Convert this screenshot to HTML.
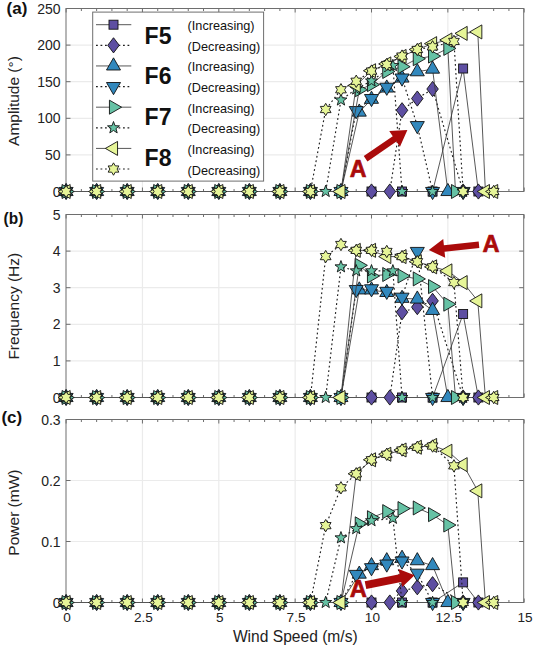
<!DOCTYPE html><html><head><meta charset="utf-8"><style>html,body{margin:0;padding:0;background:#fff;}svg{display:block;}text{font-family:"Liberation Sans",sans-serif;}</style></head><body>
<svg width="533" height="647" viewBox="0 0 533 647">
<rect x="0" y="0" width="533" height="647" fill="#fff"/>
<line x1="142.45" y1="8.5" x2="142.45" y2="191.5" stroke="#ebebeb" stroke-width="1.2"/>
<line x1="218.8" y1="8.5" x2="218.8" y2="191.5" stroke="#ebebeb" stroke-width="1.2"/>
<line x1="295.15" y1="8.5" x2="295.15" y2="191.5" stroke="#ebebeb" stroke-width="1.2"/>
<line x1="371.5" y1="8.5" x2="371.5" y2="191.5" stroke="#ebebeb" stroke-width="1.2"/>
<line x1="447.85" y1="8.5" x2="447.85" y2="191.5" stroke="#ebebeb" stroke-width="1.2"/>
<line x1="66" y1="154.9" x2="523.7" y2="154.9" stroke="#ebebeb" stroke-width="1.2"/>
<line x1="66" y1="118.3" x2="523.7" y2="118.3" stroke="#ebebeb" stroke-width="1.2"/>
<line x1="66" y1="81.7" x2="523.7" y2="81.7" stroke="#ebebeb" stroke-width="1.2"/>
<line x1="66" y1="45.1" x2="523.7" y2="45.1" stroke="#ebebeb" stroke-width="1.2"/>
<path d="M66.1 191.5v-4M66.1 8.5v4M81.37 191.5v-2.5M81.37 8.5v2.5M96.64 191.5v-2.5M96.64 8.5v2.5M111.91 191.5v-2.5M111.91 8.5v2.5M127.18 191.5v-2.5M127.18 8.5v2.5M142.45 191.5v-4M142.45 8.5v4M157.72 191.5v-2.5M157.72 8.5v2.5M172.99 191.5v-2.5M172.99 8.5v2.5M188.26 191.5v-2.5M188.26 8.5v2.5M203.53 191.5v-2.5M203.53 8.5v2.5M218.8 191.5v-4M218.8 8.5v4M234.07 191.5v-2.5M234.07 8.5v2.5M249.34 191.5v-2.5M249.34 8.5v2.5M264.61 191.5v-2.5M264.61 8.5v2.5M279.88 191.5v-2.5M279.88 8.5v2.5M295.15 191.5v-4M295.15 8.5v4M310.42 191.5v-2.5M310.42 8.5v2.5M325.69 191.5v-2.5M325.69 8.5v2.5M340.96 191.5v-2.5M340.96 8.5v2.5M356.23 191.5v-2.5M356.23 8.5v2.5M371.5 191.5v-4M371.5 8.5v4M386.77 191.5v-2.5M386.77 8.5v2.5M402.04 191.5v-2.5M402.04 8.5v2.5M417.31 191.5v-2.5M417.31 8.5v2.5M432.58 191.5v-2.5M432.58 8.5v2.5M447.85 191.5v-4M447.85 8.5v4M463.12 191.5v-2.5M463.12 8.5v2.5M478.39 191.5v-2.5M478.39 8.5v2.5M493.66 191.5v-2.5M493.66 8.5v2.5M508.93 191.5v-2.5M508.93 8.5v2.5M524.2 191.5v-4M524.2 8.5v4M66 191.5h4.5M523.7 191.5h-4.5M66 154.9h4.5M523.7 154.9h-4.5M66 118.3h4.5M523.7 118.3h-4.5M66 81.7h4.5M523.7 81.7h-4.5M66 45.1h4.5M523.7 45.1h-4.5M66 8.5h4.5M523.7 8.5h-4.5" stroke="#6e6e6e" stroke-width="1" fill="none"/>
<rect x="66" y="8.5" width="457.7" height="183" fill="none" stroke="#6e6e6e" stroke-width="1"/>
<text x="60.6" y="196.5" font-size="14" text-anchor="end" fill="#222">0</text>
<text x="60.6" y="159.9" font-size="14" text-anchor="end" fill="#222">50</text>
<text x="60.6" y="123.3" font-size="14" text-anchor="end" fill="#222">100</text>
<text x="60.6" y="86.7" font-size="14" text-anchor="end" fill="#222">150</text>
<text x="60.6" y="50.1" font-size="14" text-anchor="end" fill="#222">200</text>
<text x="60.6" y="13.5" font-size="14" text-anchor="end" fill="#222">250</text>
<line x1="142.45" y1="214.5" x2="142.45" y2="397.5" stroke="#ebebeb" stroke-width="1.2"/>
<line x1="218.8" y1="214.5" x2="218.8" y2="397.5" stroke="#ebebeb" stroke-width="1.2"/>
<line x1="295.15" y1="214.5" x2="295.15" y2="397.5" stroke="#ebebeb" stroke-width="1.2"/>
<line x1="371.5" y1="214.5" x2="371.5" y2="397.5" stroke="#ebebeb" stroke-width="1.2"/>
<line x1="447.85" y1="214.5" x2="447.85" y2="397.5" stroke="#ebebeb" stroke-width="1.2"/>
<line x1="66" y1="360.9" x2="523.7" y2="360.9" stroke="#ebebeb" stroke-width="1.2"/>
<line x1="66" y1="324.3" x2="523.7" y2="324.3" stroke="#ebebeb" stroke-width="1.2"/>
<line x1="66" y1="287.7" x2="523.7" y2="287.7" stroke="#ebebeb" stroke-width="1.2"/>
<line x1="66" y1="251.1" x2="523.7" y2="251.1" stroke="#ebebeb" stroke-width="1.2"/>
<path d="M66.1 397.5v-4M66.1 214.5v4M81.37 397.5v-2.5M81.37 214.5v2.5M96.64 397.5v-2.5M96.64 214.5v2.5M111.91 397.5v-2.5M111.91 214.5v2.5M127.18 397.5v-2.5M127.18 214.5v2.5M142.45 397.5v-4M142.45 214.5v4M157.72 397.5v-2.5M157.72 214.5v2.5M172.99 397.5v-2.5M172.99 214.5v2.5M188.26 397.5v-2.5M188.26 214.5v2.5M203.53 397.5v-2.5M203.53 214.5v2.5M218.8 397.5v-4M218.8 214.5v4M234.07 397.5v-2.5M234.07 214.5v2.5M249.34 397.5v-2.5M249.34 214.5v2.5M264.61 397.5v-2.5M264.61 214.5v2.5M279.88 397.5v-2.5M279.88 214.5v2.5M295.15 397.5v-4M295.15 214.5v4M310.42 397.5v-2.5M310.42 214.5v2.5M325.69 397.5v-2.5M325.69 214.5v2.5M340.96 397.5v-2.5M340.96 214.5v2.5M356.23 397.5v-2.5M356.23 214.5v2.5M371.5 397.5v-4M371.5 214.5v4M386.77 397.5v-2.5M386.77 214.5v2.5M402.04 397.5v-2.5M402.04 214.5v2.5M417.31 397.5v-2.5M417.31 214.5v2.5M432.58 397.5v-2.5M432.58 214.5v2.5M447.85 397.5v-4M447.85 214.5v4M463.12 397.5v-2.5M463.12 214.5v2.5M478.39 397.5v-2.5M478.39 214.5v2.5M493.66 397.5v-2.5M493.66 214.5v2.5M508.93 397.5v-2.5M508.93 214.5v2.5M524.2 397.5v-4M524.2 214.5v4M66 397.5h4.5M523.7 397.5h-4.5M66 360.9h4.5M523.7 360.9h-4.5M66 324.3h4.5M523.7 324.3h-4.5M66 287.7h4.5M523.7 287.7h-4.5M66 251.1h4.5M523.7 251.1h-4.5M66 214.5h4.5M523.7 214.5h-4.5" stroke="#6e6e6e" stroke-width="1" fill="none"/>
<rect x="66" y="214.5" width="457.7" height="183" fill="none" stroke="#6e6e6e" stroke-width="1"/>
<text x="60.6" y="402.5" font-size="14" text-anchor="end" fill="#222">0</text>
<text x="60.6" y="365.9" font-size="14" text-anchor="end" fill="#222">1</text>
<text x="60.6" y="329.3" font-size="14" text-anchor="end" fill="#222">2</text>
<text x="60.6" y="292.7" font-size="14" text-anchor="end" fill="#222">3</text>
<text x="60.6" y="256.1" font-size="14" text-anchor="end" fill="#222">4</text>
<text x="60.6" y="219.5" font-size="14" text-anchor="end" fill="#222">5</text>
<line x1="142.45" y1="419.5" x2="142.45" y2="602.5" stroke="#ebebeb" stroke-width="1.2"/>
<line x1="218.8" y1="419.5" x2="218.8" y2="602.5" stroke="#ebebeb" stroke-width="1.2"/>
<line x1="295.15" y1="419.5" x2="295.15" y2="602.5" stroke="#ebebeb" stroke-width="1.2"/>
<line x1="371.5" y1="419.5" x2="371.5" y2="602.5" stroke="#ebebeb" stroke-width="1.2"/>
<line x1="447.85" y1="419.5" x2="447.85" y2="602.5" stroke="#ebebeb" stroke-width="1.2"/>
<line x1="66" y1="541.5" x2="523.7" y2="541.5" stroke="#ebebeb" stroke-width="1.2"/>
<line x1="66" y1="480.5" x2="523.7" y2="480.5" stroke="#ebebeb" stroke-width="1.2"/>
<path d="M66.1 602.5v-4M66.1 419.5v4M81.37 602.5v-2.5M81.37 419.5v2.5M96.64 602.5v-2.5M96.64 419.5v2.5M111.91 602.5v-2.5M111.91 419.5v2.5M127.18 602.5v-2.5M127.18 419.5v2.5M142.45 602.5v-4M142.45 419.5v4M157.72 602.5v-2.5M157.72 419.5v2.5M172.99 602.5v-2.5M172.99 419.5v2.5M188.26 602.5v-2.5M188.26 419.5v2.5M203.53 602.5v-2.5M203.53 419.5v2.5M218.8 602.5v-4M218.8 419.5v4M234.07 602.5v-2.5M234.07 419.5v2.5M249.34 602.5v-2.5M249.34 419.5v2.5M264.61 602.5v-2.5M264.61 419.5v2.5M279.88 602.5v-2.5M279.88 419.5v2.5M295.15 602.5v-4M295.15 419.5v4M310.42 602.5v-2.5M310.42 419.5v2.5M325.69 602.5v-2.5M325.69 419.5v2.5M340.96 602.5v-2.5M340.96 419.5v2.5M356.23 602.5v-2.5M356.23 419.5v2.5M371.5 602.5v-4M371.5 419.5v4M386.77 602.5v-2.5M386.77 419.5v2.5M402.04 602.5v-2.5M402.04 419.5v2.5M417.31 602.5v-2.5M417.31 419.5v2.5M432.58 602.5v-2.5M432.58 419.5v2.5M447.85 602.5v-4M447.85 419.5v4M463.12 602.5v-2.5M463.12 419.5v2.5M478.39 602.5v-2.5M478.39 419.5v2.5M493.66 602.5v-2.5M493.66 419.5v2.5M508.93 602.5v-2.5M508.93 419.5v2.5M524.2 602.5v-4M524.2 419.5v4M66 602.5h4.5M523.7 602.5h-4.5M66 541.5h4.5M523.7 541.5h-4.5M66 480.5h4.5M523.7 480.5h-4.5M66 419.5h4.5M523.7 419.5h-4.5" stroke="#6e6e6e" stroke-width="1" fill="none"/>
<rect x="66" y="419.5" width="457.7" height="183" fill="none" stroke="#6e6e6e" stroke-width="1"/>
<text x="60.6" y="607.5" font-size="14" text-anchor="end" fill="#222">0</text>
<text x="60.6" y="546.5" font-size="14" text-anchor="end" fill="#222">0.1</text>
<text x="60.6" y="485.5" font-size="14" text-anchor="end" fill="#222">0.2</text>
<text x="60.6" y="424.5" font-size="14" text-anchor="end" fill="#222">0.3</text>
<g>
<line x1="66.1" y1="191.5" x2="493.66" y2="191.5" stroke="#555" stroke-width="1"/>
<polyline points="432.58,191.5 463.12,68.52 478.39,191.5" fill="none" stroke="#3a3a3a" stroke-width="0.85"/>
<rect x="61.6" y="187" width="9" height="9" fill="#5e4fa2" stroke="#111" stroke-width="0.9"/>
<rect x="92.14" y="187" width="9" height="9" fill="#5e4fa2" stroke="#111" stroke-width="0.9"/>
<rect x="122.68" y="187" width="9" height="9" fill="#5e4fa2" stroke="#111" stroke-width="0.9"/>
<rect x="153.22" y="187" width="9" height="9" fill="#5e4fa2" stroke="#111" stroke-width="0.9"/>
<rect x="183.76" y="187" width="9" height="9" fill="#5e4fa2" stroke="#111" stroke-width="0.9"/>
<rect x="214.3" y="187" width="9" height="9" fill="#5e4fa2" stroke="#111" stroke-width="0.9"/>
<rect x="244.84" y="187" width="9" height="9" fill="#5e4fa2" stroke="#111" stroke-width="0.9"/>
<rect x="275.38" y="187" width="9" height="9" fill="#5e4fa2" stroke="#111" stroke-width="0.9"/>
<rect x="305.92" y="187" width="9" height="9" fill="#5e4fa2" stroke="#111" stroke-width="0.9"/>
<rect x="336.46" y="187" width="9" height="9" fill="#5e4fa2" stroke="#111" stroke-width="0.9"/>
<rect x="367" y="187" width="9" height="9" fill="#5e4fa2" stroke="#111" stroke-width="0.9"/>
<rect x="397.54" y="187" width="9" height="9" fill="#5e4fa2" stroke="#111" stroke-width="0.9"/>
<rect x="428.08" y="187" width="9" height="9" fill="#5e4fa2" stroke="#111" stroke-width="0.9"/>
<rect x="458.62" y="64.02" width="9" height="9" fill="#5e4fa2" stroke="#111" stroke-width="0.9"/>
<rect x="473.89" y="187" width="9" height="9" fill="#5e4fa2" stroke="#111" stroke-width="0.9"/>
<polyline points="463.12,191.5 432.58,89.02 417.31,98.54 402.04,110.25 389.82,191.5" fill="none" stroke="#1e1e1e" stroke-width="1.15" stroke-dasharray="1.8 2.7"/>
<polygon points="478.39,183.9 484.14,191.5 478.39,199.1 472.64,191.5" fill="#5e4fa2" stroke="#111" stroke-width="0.9" stroke-linejoin="miter"/>
<polygon points="463.12,183.9 468.87,191.5 463.12,199.1 457.37,191.5" fill="#5e4fa2" stroke="#111" stroke-width="0.9" stroke-linejoin="miter"/>
<polygon points="432.58,81.42 438.33,89.02 432.58,96.62 426.83,89.02" fill="#5e4fa2" stroke="#111" stroke-width="0.9" stroke-linejoin="miter"/>
<polygon points="417.31,90.94 423.06,98.54 417.31,106.14 411.56,98.54" fill="#5e4fa2" stroke="#111" stroke-width="0.9" stroke-linejoin="miter"/>
<polygon points="402.04,102.65 407.79,110.25 402.04,117.85 396.29,110.25" fill="#5e4fa2" stroke="#111" stroke-width="0.9" stroke-linejoin="miter"/>
<polygon points="389.82,183.9 395.57,191.5 389.82,199.1 384.07,191.5" fill="#5e4fa2" stroke="#111" stroke-width="0.9" stroke-linejoin="miter"/>
<polygon points="371.5,183.9 377.25,191.5 371.5,199.1 365.75,191.5" fill="#5e4fa2" stroke="#111" stroke-width="0.9" stroke-linejoin="miter"/>
<polygon points="340.96,183.9 346.71,191.5 340.96,199.1 335.21,191.5" fill="#5e4fa2" stroke="#111" stroke-width="0.9" stroke-linejoin="miter"/>
<polygon points="310.42,183.9 316.17,191.5 310.42,199.1 304.67,191.5" fill="#5e4fa2" stroke="#111" stroke-width="0.9" stroke-linejoin="miter"/>
<polygon points="279.88,183.9 285.63,191.5 279.88,199.1 274.13,191.5" fill="#5e4fa2" stroke="#111" stroke-width="0.9" stroke-linejoin="miter"/>
<polygon points="249.34,183.9 255.09,191.5 249.34,199.1 243.59,191.5" fill="#5e4fa2" stroke="#111" stroke-width="0.9" stroke-linejoin="miter"/>
<polygon points="218.8,183.9 224.55,191.5 218.8,199.1 213.05,191.5" fill="#5e4fa2" stroke="#111" stroke-width="0.9" stroke-linejoin="miter"/>
<polygon points="188.26,183.9 194.01,191.5 188.26,199.1 182.51,191.5" fill="#5e4fa2" stroke="#111" stroke-width="0.9" stroke-linejoin="miter"/>
<polygon points="157.72,183.9 163.47,191.5 157.72,199.1 151.97,191.5" fill="#5e4fa2" stroke="#111" stroke-width="0.9" stroke-linejoin="miter"/>
<polygon points="127.18,183.9 132.93,191.5 127.18,199.1 121.43,191.5" fill="#5e4fa2" stroke="#111" stroke-width="0.9" stroke-linejoin="miter"/>
<polygon points="96.64,183.9 102.39,191.5 96.64,199.1 90.89,191.5" fill="#5e4fa2" stroke="#111" stroke-width="0.9" stroke-linejoin="miter"/>
<polygon points="66.1,183.9 71.85,191.5 66.1,199.1 60.35,191.5" fill="#5e4fa2" stroke="#111" stroke-width="0.9" stroke-linejoin="miter"/>
<polyline points="340.96,191.5 359.28,112.08 371.5,99.27 386.77,88 402.04,78.04 417.31,71.74 432.58,69.11 447.85,191.5" fill="none" stroke="#3a3a3a" stroke-width="0.85"/>
<polygon points="66.1,183.4 73.11,195.55 59.09,195.55" fill="#3288bd" stroke="#111" stroke-width="0.9" stroke-linejoin="miter"/>
<polygon points="96.64,183.4 103.65,195.55 89.63,195.55" fill="#3288bd" stroke="#111" stroke-width="0.9" stroke-linejoin="miter"/>
<polygon points="127.18,183.4 134.19,195.55 120.17,195.55" fill="#3288bd" stroke="#111" stroke-width="0.9" stroke-linejoin="miter"/>
<polygon points="157.72,183.4 164.73,195.55 150.71,195.55" fill="#3288bd" stroke="#111" stroke-width="0.9" stroke-linejoin="miter"/>
<polygon points="188.26,183.4 195.27,195.55 181.25,195.55" fill="#3288bd" stroke="#111" stroke-width="0.9" stroke-linejoin="miter"/>
<polygon points="218.8,183.4 225.81,195.55 211.79,195.55" fill="#3288bd" stroke="#111" stroke-width="0.9" stroke-linejoin="miter"/>
<polygon points="249.34,183.4 256.35,195.55 242.33,195.55" fill="#3288bd" stroke="#111" stroke-width="0.9" stroke-linejoin="miter"/>
<polygon points="279.88,183.4 286.89,195.55 272.87,195.55" fill="#3288bd" stroke="#111" stroke-width="0.9" stroke-linejoin="miter"/>
<polygon points="310.42,183.4 317.43,195.55 303.41,195.55" fill="#3288bd" stroke="#111" stroke-width="0.9" stroke-linejoin="miter"/>
<polygon points="340.96,183.4 347.97,195.55 333.95,195.55" fill="#3288bd" stroke="#111" stroke-width="0.9" stroke-linejoin="miter"/>
<polygon points="359.28,103.98 366.3,116.13 352.27,116.13" fill="#3288bd" stroke="#111" stroke-width="0.9" stroke-linejoin="miter"/>
<polygon points="371.5,91.17 378.51,103.32 364.49,103.32" fill="#3288bd" stroke="#111" stroke-width="0.9" stroke-linejoin="miter"/>
<polygon points="386.77,79.9 393.78,92.05 379.76,92.05" fill="#3288bd" stroke="#111" stroke-width="0.9" stroke-linejoin="miter"/>
<polygon points="402.04,69.94 409.05,82.09 395.03,82.09" fill="#3288bd" stroke="#111" stroke-width="0.9" stroke-linejoin="miter"/>
<polygon points="417.31,63.64 424.32,75.79 410.3,75.79" fill="#3288bd" stroke="#111" stroke-width="0.9" stroke-linejoin="miter"/>
<polygon points="432.58,61.01 439.59,73.16 425.57,73.16" fill="#3288bd" stroke="#111" stroke-width="0.9" stroke-linejoin="miter"/>
<polygon points="447.85,183.4 454.86,195.55 440.84,195.55" fill="#3288bd" stroke="#111" stroke-width="0.9" stroke-linejoin="miter"/>
<polyline points="432.58,191.5 417.31,125.62 402.04,78.04 386.77,87.26 371.5,98.54 356.23,110.61 340.96,191.5" fill="none" stroke="#1e1e1e" stroke-width="1.15" stroke-dasharray="1.8 2.7"/>
<polygon points="463.12,199.6 456.11,187.45 470.13,187.45" fill="#3288bd" stroke="#111" stroke-width="0.9" stroke-linejoin="miter"/>
<polygon points="432.58,199.6 425.57,187.45 439.59,187.45" fill="#3288bd" stroke="#111" stroke-width="0.9" stroke-linejoin="miter"/>
<polygon points="417.31,133.72 410.3,121.57 424.32,121.57" fill="#3288bd" stroke="#111" stroke-width="0.9" stroke-linejoin="miter"/>
<polygon points="402.04,86.14 395.03,73.99 409.05,73.99" fill="#3288bd" stroke="#111" stroke-width="0.9" stroke-linejoin="miter"/>
<polygon points="386.77,95.36 379.76,83.21 393.78,83.21" fill="#3288bd" stroke="#111" stroke-width="0.9" stroke-linejoin="miter"/>
<polygon points="371.5,106.64 364.49,94.49 378.51,94.49" fill="#3288bd" stroke="#111" stroke-width="0.9" stroke-linejoin="miter"/>
<polygon points="356.23,118.71 349.22,106.56 363.24,106.56" fill="#3288bd" stroke="#111" stroke-width="0.9" stroke-linejoin="miter"/>
<polygon points="340.96,199.6 333.95,187.45 347.97,187.45" fill="#3288bd" stroke="#111" stroke-width="0.9" stroke-linejoin="miter"/>
<polygon points="310.42,199.6 303.41,187.45 317.43,187.45" fill="#3288bd" stroke="#111" stroke-width="0.9" stroke-linejoin="miter"/>
<polygon points="279.88,199.6 272.87,187.45 286.89,187.45" fill="#3288bd" stroke="#111" stroke-width="0.9" stroke-linejoin="miter"/>
<polygon points="249.34,199.6 242.33,187.45 256.35,187.45" fill="#3288bd" stroke="#111" stroke-width="0.9" stroke-linejoin="miter"/>
<polygon points="218.8,199.6 211.79,187.45 225.81,187.45" fill="#3288bd" stroke="#111" stroke-width="0.9" stroke-linejoin="miter"/>
<polygon points="188.26,199.6 181.25,187.45 195.27,187.45" fill="#3288bd" stroke="#111" stroke-width="0.9" stroke-linejoin="miter"/>
<polygon points="157.72,199.6 150.71,187.45 164.73,187.45" fill="#3288bd" stroke="#111" stroke-width="0.9" stroke-linejoin="miter"/>
<polygon points="127.18,199.6 120.17,187.45 134.19,187.45" fill="#3288bd" stroke="#111" stroke-width="0.9" stroke-linejoin="miter"/>
<polygon points="96.64,199.6 89.63,187.45 103.65,187.45" fill="#3288bd" stroke="#111" stroke-width="0.9" stroke-linejoin="miter"/>
<polygon points="66.1,199.6 59.09,187.45 73.11,187.45" fill="#3288bd" stroke="#111" stroke-width="0.9" stroke-linejoin="miter"/>
<polyline points="340.96,191.5 359.28,89.75 371.5,84.63 386.77,71.45 402.04,66.69 417.31,58.72 432.58,56.08 447.85,48.39 455.49,191.5" fill="none" stroke="#3a3a3a" stroke-width="0.85"/>
<polygon points="74.2,191.5 62.05,198.51 62.05,184.49" fill="#66c2a5" stroke="#111" stroke-width="0.9" stroke-linejoin="miter"/>
<polygon points="104.74,191.5 92.59,198.51 92.59,184.49" fill="#66c2a5" stroke="#111" stroke-width="0.9" stroke-linejoin="miter"/>
<polygon points="135.28,191.5 123.13,198.51 123.13,184.49" fill="#66c2a5" stroke="#111" stroke-width="0.9" stroke-linejoin="miter"/>
<polygon points="165.82,191.5 153.67,198.51 153.67,184.49" fill="#66c2a5" stroke="#111" stroke-width="0.9" stroke-linejoin="miter"/>
<polygon points="196.36,191.5 184.21,198.51 184.21,184.49" fill="#66c2a5" stroke="#111" stroke-width="0.9" stroke-linejoin="miter"/>
<polygon points="226.9,191.5 214.75,198.51 214.75,184.49" fill="#66c2a5" stroke="#111" stroke-width="0.9" stroke-linejoin="miter"/>
<polygon points="257.44,191.5 245.29,198.51 245.29,184.49" fill="#66c2a5" stroke="#111" stroke-width="0.9" stroke-linejoin="miter"/>
<polygon points="287.98,191.5 275.83,198.51 275.83,184.49" fill="#66c2a5" stroke="#111" stroke-width="0.9" stroke-linejoin="miter"/>
<polygon points="318.52,191.5 306.37,198.51 306.37,184.49" fill="#66c2a5" stroke="#111" stroke-width="0.9" stroke-linejoin="miter"/>
<polygon points="349.06,191.5 336.91,198.51 336.91,184.49" fill="#66c2a5" stroke="#111" stroke-width="0.9" stroke-linejoin="miter"/>
<polygon points="367.38,89.75 355.23,96.77 355.23,82.74" fill="#66c2a5" stroke="#111" stroke-width="0.9" stroke-linejoin="miter"/>
<polygon points="379.6,84.63 367.45,91.64 367.45,77.61" fill="#66c2a5" stroke="#111" stroke-width="0.9" stroke-linejoin="miter"/>
<polygon points="394.87,71.45 382.72,78.47 382.72,64.44" fill="#66c2a5" stroke="#111" stroke-width="0.9" stroke-linejoin="miter"/>
<polygon points="410.14,66.69 397.99,73.71 397.99,59.68" fill="#66c2a5" stroke="#111" stroke-width="0.9" stroke-linejoin="miter"/>
<polygon points="425.41,58.72 413.26,65.73 413.26,51.7" fill="#66c2a5" stroke="#111" stroke-width="0.9" stroke-linejoin="miter"/>
<polygon points="440.68,56.08 428.53,63.09 428.53,49.07" fill="#66c2a5" stroke="#111" stroke-width="0.9" stroke-linejoin="miter"/>
<polygon points="455.95,48.39 443.8,55.41 443.8,41.38" fill="#66c2a5" stroke="#111" stroke-width="0.9" stroke-linejoin="miter"/>
<polygon points="463.59,191.5 451.44,198.51 451.44,184.49" fill="#66c2a5" stroke="#111" stroke-width="0.9" stroke-linejoin="miter"/>
<polyline points="402.04,191.5 392.88,65.6 371.5,80.97 356.23,89.02 340.96,100 325.69,191.5" fill="none" stroke="#1e1e1e" stroke-width="1.15" stroke-dasharray="1.8 2.7"/>
<polygon points="463.12,185.2 464.65,189.4 469.11,189.55 465.59,192.3 466.82,196.6 463.12,194.1 459.42,196.6 460.65,192.3 457.13,189.55 461.59,189.4" fill="#66c2a5" stroke="#111" stroke-width="0.9" stroke-linejoin="miter"/>
<polygon points="432.58,185.2 434.11,189.4 438.57,189.55 435.05,192.3 436.28,196.6 432.58,194.1 428.88,196.6 430.11,192.3 426.59,189.55 431.05,189.4" fill="#66c2a5" stroke="#111" stroke-width="0.9" stroke-linejoin="miter"/>
<polygon points="402.04,185.2 403.57,189.4 408.03,189.55 404.51,192.3 405.74,196.6 402.04,194.1 398.34,196.6 399.57,192.3 396.05,189.55 400.51,189.4" fill="#66c2a5" stroke="#111" stroke-width="0.9" stroke-linejoin="miter"/>
<polygon points="392.88,59.3 394.41,63.49 398.87,63.65 395.35,66.4 396.58,70.69 392.88,68.2 389.17,70.69 390.41,66.4 386.89,63.65 391.35,63.49" fill="#66c2a5" stroke="#111" stroke-width="0.9" stroke-linejoin="miter"/>
<polygon points="371.5,74.67 373.03,78.86 377.49,79.02 373.97,81.77 375.2,86.06 371.5,83.57 367.8,86.06 369.03,81.77 365.51,79.02 369.97,78.86" fill="#66c2a5" stroke="#111" stroke-width="0.9" stroke-linejoin="miter"/>
<polygon points="356.23,82.72 357.76,86.92 362.22,87.07 358.7,89.82 359.93,94.12 356.23,91.62 352.53,94.12 353.76,89.82 350.24,87.07 354.7,86.92" fill="#66c2a5" stroke="#111" stroke-width="0.9" stroke-linejoin="miter"/>
<polygon points="340.96,93.7 342.49,97.9 346.95,98.05 343.43,100.8 344.66,105.1 340.96,102.6 337.26,105.1 338.49,100.8 334.97,98.05 339.43,97.9" fill="#66c2a5" stroke="#111" stroke-width="0.9" stroke-linejoin="miter"/>
<polygon points="325.69,185.2 327.22,189.4 331.68,189.55 328.16,192.3 329.39,196.6 325.69,194.1 321.99,196.6 323.22,192.3 319.7,189.55 324.16,189.4" fill="#66c2a5" stroke="#111" stroke-width="0.9" stroke-linejoin="miter"/>
<polygon points="310.42,185.2 311.95,189.4 316.41,189.55 312.89,192.3 314.12,196.6 310.42,194.1 306.72,196.6 307.95,192.3 304.43,189.55 308.89,189.4" fill="#66c2a5" stroke="#111" stroke-width="0.9" stroke-linejoin="miter"/>
<polygon points="279.88,185.2 281.41,189.4 285.87,189.55 282.35,192.3 283.58,196.6 279.88,194.1 276.18,196.6 277.41,192.3 273.89,189.55 278.35,189.4" fill="#66c2a5" stroke="#111" stroke-width="0.9" stroke-linejoin="miter"/>
<polygon points="249.34,185.2 250.87,189.4 255.33,189.55 251.81,192.3 253.04,196.6 249.34,194.1 245.64,196.6 246.87,192.3 243.35,189.55 247.81,189.4" fill="#66c2a5" stroke="#111" stroke-width="0.9" stroke-linejoin="miter"/>
<polygon points="218.8,185.2 220.33,189.4 224.79,189.55 221.27,192.3 222.5,196.6 218.8,194.1 215.1,196.6 216.33,192.3 212.81,189.55 217.27,189.4" fill="#66c2a5" stroke="#111" stroke-width="0.9" stroke-linejoin="miter"/>
<polygon points="188.26,185.2 189.79,189.4 194.25,189.55 190.73,192.3 191.96,196.6 188.26,194.1 184.56,196.6 185.79,192.3 182.27,189.55 186.73,189.4" fill="#66c2a5" stroke="#111" stroke-width="0.9" stroke-linejoin="miter"/>
<polygon points="157.72,185.2 159.25,189.4 163.71,189.55 160.19,192.3 161.42,196.6 157.72,194.1 154.02,196.6 155.25,192.3 151.73,189.55 156.19,189.4" fill="#66c2a5" stroke="#111" stroke-width="0.9" stroke-linejoin="miter"/>
<polygon points="127.18,185.2 128.71,189.4 133.17,189.55 129.65,192.3 130.88,196.6 127.18,194.1 123.48,196.6 124.71,192.3 121.19,189.55 125.65,189.4" fill="#66c2a5" stroke="#111" stroke-width="0.9" stroke-linejoin="miter"/>
<polygon points="96.64,185.2 98.17,189.4 102.63,189.55 99.11,192.3 100.34,196.6 96.64,194.1 92.94,196.6 94.17,192.3 90.65,189.55 95.11,189.4" fill="#66c2a5" stroke="#111" stroke-width="0.9" stroke-linejoin="miter"/>
<polygon points="66.1,185.2 67.63,189.4 72.09,189.55 68.57,192.3 69.8,196.6 66.1,194.1 62.4,196.6 63.63,192.3 60.11,189.55 64.57,189.4" fill="#66c2a5" stroke="#111" stroke-width="0.9" stroke-linejoin="miter"/>
<polyline points="340.96,191.5 356.23,85.36 371.5,70.72 386.77,63.91 402.04,56.45 417.31,49.49 432.58,43.64 447.85,39.98 463.12,33.39 477.78,31.92 485.41,191.5" fill="none" stroke="#3a3a3a" stroke-width="0.85"/>
<polygon points="58,191.5 70.15,184.49 70.15,198.51" fill="#e6f598" stroke="#111" stroke-width="0.9" stroke-linejoin="miter"/>
<polygon points="88.54,191.5 100.69,184.49 100.69,198.51" fill="#e6f598" stroke="#111" stroke-width="0.9" stroke-linejoin="miter"/>
<polygon points="119.08,191.5 131.23,184.49 131.23,198.51" fill="#e6f598" stroke="#111" stroke-width="0.9" stroke-linejoin="miter"/>
<polygon points="149.62,191.5 161.77,184.49 161.77,198.51" fill="#e6f598" stroke="#111" stroke-width="0.9" stroke-linejoin="miter"/>
<polygon points="180.16,191.5 192.31,184.49 192.31,198.51" fill="#e6f598" stroke="#111" stroke-width="0.9" stroke-linejoin="miter"/>
<polygon points="210.7,191.5 222.85,184.49 222.85,198.51" fill="#e6f598" stroke="#111" stroke-width="0.9" stroke-linejoin="miter"/>
<polygon points="241.24,191.5 253.39,184.49 253.39,198.51" fill="#e6f598" stroke="#111" stroke-width="0.9" stroke-linejoin="miter"/>
<polygon points="271.78,191.5 283.93,184.49 283.93,198.51" fill="#e6f598" stroke="#111" stroke-width="0.9" stroke-linejoin="miter"/>
<polygon points="302.32,191.5 314.47,184.49 314.47,198.51" fill="#e6f598" stroke="#111" stroke-width="0.9" stroke-linejoin="miter"/>
<polygon points="332.86,191.5 345.01,184.49 345.01,198.51" fill="#e6f598" stroke="#111" stroke-width="0.9" stroke-linejoin="miter"/>
<polygon points="348.13,85.36 360.28,78.35 360.28,92.37" fill="#e6f598" stroke="#111" stroke-width="0.9" stroke-linejoin="miter"/>
<polygon points="363.4,70.72 375.55,63.71 375.55,77.73" fill="#e6f598" stroke="#111" stroke-width="0.9" stroke-linejoin="miter"/>
<polygon points="378.67,63.91 390.82,56.9 390.82,70.93" fill="#e6f598" stroke="#111" stroke-width="0.9" stroke-linejoin="miter"/>
<polygon points="393.94,56.45 406.09,49.43 406.09,63.46" fill="#e6f598" stroke="#111" stroke-width="0.9" stroke-linejoin="miter"/>
<polygon points="409.21,49.49 421.36,42.48 421.36,56.51" fill="#e6f598" stroke="#111" stroke-width="0.9" stroke-linejoin="miter"/>
<polygon points="424.48,43.64 436.63,36.62 436.63,50.65" fill="#e6f598" stroke="#111" stroke-width="0.9" stroke-linejoin="miter"/>
<polygon points="439.75,39.98 451.9,32.96 451.9,46.99" fill="#e6f598" stroke="#111" stroke-width="0.9" stroke-linejoin="miter"/>
<polygon points="455.02,33.39 467.17,26.37 467.17,40.4" fill="#e6f598" stroke="#111" stroke-width="0.9" stroke-linejoin="miter"/>
<polygon points="469.68,31.92 481.83,24.91 481.83,38.94" fill="#e6f598" stroke="#111" stroke-width="0.9" stroke-linejoin="miter"/>
<polygon points="477.31,191.5 489.46,184.49 489.46,198.51" fill="#e6f598" stroke="#111" stroke-width="0.9" stroke-linejoin="miter"/>
<polygon points="485.56,191.5 497.71,184.49 497.71,198.51" fill="#e6f598" stroke="#111" stroke-width="0.9" stroke-linejoin="miter"/>
<polyline points="463.12,191.5 453.96,41.44 432.58,46.86 417.31,49.49 402.04,56.08 386.77,64.5 371.5,71.09 356.23,81.26 340.96,89.75 325.69,109.52 310.42,191.5" fill="none" stroke="#1e1e1e" stroke-width="1.15" stroke-dasharray="1.8 2.7"/>
<polygon points="493.66,185.3 495.46,188.38 499.03,188.4 497.26,191.5 499.03,194.6 495.46,194.62 493.66,197.7 491.86,194.62 488.29,194.6 490.06,191.5 488.29,188.4 491.86,188.38" fill="#e6f598" stroke="#111" stroke-width="0.9" stroke-linejoin="miter"/>
<polygon points="463.12,185.3 464.92,188.38 468.49,188.4 466.72,191.5 468.49,194.6 464.92,194.62 463.12,197.7 461.32,194.62 457.75,194.6 459.52,191.5 457.75,188.4 461.32,188.38" fill="#e6f598" stroke="#111" stroke-width="0.9" stroke-linejoin="miter"/>
<polygon points="453.96,35.24 455.76,38.32 459.33,38.34 457.56,41.44 459.33,44.54 455.76,44.56 453.96,47.64 452.16,44.56 448.59,44.54 450.36,41.44 448.59,38.34 452.16,38.32" fill="#e6f598" stroke="#111" stroke-width="0.9" stroke-linejoin="miter"/>
<polygon points="432.58,40.66 434.38,43.74 437.95,43.76 436.18,46.86 437.95,49.96 434.38,49.97 432.58,53.06 430.78,49.97 427.21,49.96 428.98,46.86 427.21,43.76 430.78,43.74" fill="#e6f598" stroke="#111" stroke-width="0.9" stroke-linejoin="miter"/>
<polygon points="417.31,43.29 419.11,46.37 422.68,46.39 420.91,49.49 422.68,52.59 419.11,52.61 417.31,55.69 415.51,52.61 411.94,52.59 413.71,49.49 411.94,46.39 415.51,46.37" fill="#e6f598" stroke="#111" stroke-width="0.9" stroke-linejoin="miter"/>
<polygon points="402.04,49.88 403.84,52.96 407.41,52.98 405.64,56.08 407.41,59.18 403.84,59.2 402.04,62.28 400.24,59.2 396.67,59.18 398.44,56.08 396.67,52.98 400.24,52.96" fill="#e6f598" stroke="#111" stroke-width="0.9" stroke-linejoin="miter"/>
<polygon points="386.77,58.3 388.57,61.38 392.14,61.4 390.37,64.5 392.14,67.6 388.57,67.62 386.77,70.7 384.97,67.62 381.4,67.6 383.17,64.5 381.4,61.4 384.97,61.38" fill="#e6f598" stroke="#111" stroke-width="0.9" stroke-linejoin="miter"/>
<polygon points="371.5,64.89 373.3,67.97 376.87,67.99 375.1,71.09 376.87,74.19 373.3,74.2 371.5,77.29 369.7,74.2 366.13,74.19 367.9,71.09 366.13,67.99 369.7,67.97" fill="#e6f598" stroke="#111" stroke-width="0.9" stroke-linejoin="miter"/>
<polygon points="356.23,75.06 358.03,78.14 361.6,78.16 359.83,81.26 361.6,84.36 358.03,84.38 356.23,87.46 354.43,84.38 350.86,84.36 352.63,81.26 350.86,78.16 354.43,78.14" fill="#e6f598" stroke="#111" stroke-width="0.9" stroke-linejoin="miter"/>
<polygon points="340.96,83.55 342.76,86.63 346.33,86.65 344.56,89.75 346.33,92.85 342.76,92.87 340.96,95.95 339.16,92.87 335.59,92.85 337.36,89.75 335.59,86.65 339.16,86.63" fill="#e6f598" stroke="#111" stroke-width="0.9" stroke-linejoin="miter"/>
<polygon points="325.69,103.32 327.49,106.4 331.06,106.42 329.29,109.52 331.06,112.62 327.49,112.63 325.69,115.72 323.89,112.63 320.32,112.62 322.09,109.52 320.32,106.42 323.89,106.4" fill="#e6f598" stroke="#111" stroke-width="0.9" stroke-linejoin="miter"/>
<polygon points="310.42,185.3 312.22,188.38 315.79,188.4 314.02,191.5 315.79,194.6 312.22,194.62 310.42,197.7 308.62,194.62 305.05,194.6 306.82,191.5 305.05,188.4 308.62,188.38" fill="#e6f598" stroke="#111" stroke-width="0.9" stroke-linejoin="miter"/>
<polygon points="279.88,185.3 281.68,188.38 285.25,188.4 283.48,191.5 285.25,194.6 281.68,194.62 279.88,197.7 278.08,194.62 274.51,194.6 276.28,191.5 274.51,188.4 278.08,188.38" fill="#e6f598" stroke="#111" stroke-width="0.9" stroke-linejoin="miter"/>
<polygon points="249.34,185.3 251.14,188.38 254.71,188.4 252.94,191.5 254.71,194.6 251.14,194.62 249.34,197.7 247.54,194.62 243.97,194.6 245.74,191.5 243.97,188.4 247.54,188.38" fill="#e6f598" stroke="#111" stroke-width="0.9" stroke-linejoin="miter"/>
<polygon points="218.8,185.3 220.6,188.38 224.17,188.4 222.4,191.5 224.17,194.6 220.6,194.62 218.8,197.7 217,194.62 213.43,194.6 215.2,191.5 213.43,188.4 217,188.38" fill="#e6f598" stroke="#111" stroke-width="0.9" stroke-linejoin="miter"/>
<polygon points="188.26,185.3 190.06,188.38 193.63,188.4 191.86,191.5 193.63,194.6 190.06,194.62 188.26,197.7 186.46,194.62 182.89,194.6 184.66,191.5 182.89,188.4 186.46,188.38" fill="#e6f598" stroke="#111" stroke-width="0.9" stroke-linejoin="miter"/>
<polygon points="157.72,185.3 159.52,188.38 163.09,188.4 161.32,191.5 163.09,194.6 159.52,194.62 157.72,197.7 155.92,194.62 152.35,194.6 154.12,191.5 152.35,188.4 155.92,188.38" fill="#e6f598" stroke="#111" stroke-width="0.9" stroke-linejoin="miter"/>
<polygon points="127.18,185.3 128.98,188.38 132.55,188.4 130.78,191.5 132.55,194.6 128.98,194.62 127.18,197.7 125.38,194.62 121.81,194.6 123.58,191.5 121.81,188.4 125.38,188.38" fill="#e6f598" stroke="#111" stroke-width="0.9" stroke-linejoin="miter"/>
<polygon points="96.64,185.3 98.44,188.38 102.01,188.4 100.24,191.5 102.01,194.6 98.44,194.62 96.64,197.7 94.84,194.62 91.27,194.6 93.04,191.5 91.27,188.4 94.84,188.38" fill="#e6f598" stroke="#111" stroke-width="0.9" stroke-linejoin="miter"/>
<polygon points="66.1,185.3 67.9,188.38 71.47,188.4 69.7,191.5 71.47,194.6 67.9,194.62 66.1,197.7 64.3,194.62 60.73,194.6 62.5,191.5 60.73,188.4 64.3,188.38" fill="#e6f598" stroke="#111" stroke-width="0.9" stroke-linejoin="miter"/>
</g>
<g>
<line x1="66.1" y1="397.5" x2="493.66" y2="397.5" stroke="#555" stroke-width="1"/>
<polyline points="432.58,397.5 463.12,314.05 478.39,397.5" fill="none" stroke="#3a3a3a" stroke-width="0.85"/>
<rect x="61.6" y="393" width="9" height="9" fill="#5e4fa2" stroke="#111" stroke-width="0.9"/>
<rect x="92.14" y="393" width="9" height="9" fill="#5e4fa2" stroke="#111" stroke-width="0.9"/>
<rect x="122.68" y="393" width="9" height="9" fill="#5e4fa2" stroke="#111" stroke-width="0.9"/>
<rect x="153.22" y="393" width="9" height="9" fill="#5e4fa2" stroke="#111" stroke-width="0.9"/>
<rect x="183.76" y="393" width="9" height="9" fill="#5e4fa2" stroke="#111" stroke-width="0.9"/>
<rect x="214.3" y="393" width="9" height="9" fill="#5e4fa2" stroke="#111" stroke-width="0.9"/>
<rect x="244.84" y="393" width="9" height="9" fill="#5e4fa2" stroke="#111" stroke-width="0.9"/>
<rect x="275.38" y="393" width="9" height="9" fill="#5e4fa2" stroke="#111" stroke-width="0.9"/>
<rect x="305.92" y="393" width="9" height="9" fill="#5e4fa2" stroke="#111" stroke-width="0.9"/>
<rect x="336.46" y="393" width="9" height="9" fill="#5e4fa2" stroke="#111" stroke-width="0.9"/>
<rect x="367" y="393" width="9" height="9" fill="#5e4fa2" stroke="#111" stroke-width="0.9"/>
<rect x="397.54" y="393" width="9" height="9" fill="#5e4fa2" stroke="#111" stroke-width="0.9"/>
<rect x="428.08" y="393" width="9" height="9" fill="#5e4fa2" stroke="#111" stroke-width="0.9"/>
<rect x="458.62" y="309.55" width="9" height="9" fill="#5e4fa2" stroke="#111" stroke-width="0.9"/>
<rect x="473.89" y="393" width="9" height="9" fill="#5e4fa2" stroke="#111" stroke-width="0.9"/>
<polyline points="463.12,397.5 432.58,300.88 417.31,307.1 402.04,312.22 389.82,397.5" fill="none" stroke="#1e1e1e" stroke-width="1.15" stroke-dasharray="1.8 2.7"/>
<polygon points="478.39,389.9 484.14,397.5 478.39,405.1 472.64,397.5" fill="#5e4fa2" stroke="#111" stroke-width="0.9" stroke-linejoin="miter"/>
<polygon points="463.12,389.9 468.87,397.5 463.12,405.1 457.37,397.5" fill="#5e4fa2" stroke="#111" stroke-width="0.9" stroke-linejoin="miter"/>
<polygon points="432.58,293.28 438.33,300.88 432.58,308.48 426.83,300.88" fill="#5e4fa2" stroke="#111" stroke-width="0.9" stroke-linejoin="miter"/>
<polygon points="417.31,299.5 423.06,307.1 417.31,314.7 411.56,307.1" fill="#5e4fa2" stroke="#111" stroke-width="0.9" stroke-linejoin="miter"/>
<polygon points="402.04,304.62 407.79,312.22 402.04,319.82 396.29,312.22" fill="#5e4fa2" stroke="#111" stroke-width="0.9" stroke-linejoin="miter"/>
<polygon points="389.82,389.9 395.57,397.5 389.82,405.1 384.07,397.5" fill="#5e4fa2" stroke="#111" stroke-width="0.9" stroke-linejoin="miter"/>
<polygon points="371.5,389.9 377.25,397.5 371.5,405.1 365.75,397.5" fill="#5e4fa2" stroke="#111" stroke-width="0.9" stroke-linejoin="miter"/>
<polygon points="340.96,389.9 346.71,397.5 340.96,405.1 335.21,397.5" fill="#5e4fa2" stroke="#111" stroke-width="0.9" stroke-linejoin="miter"/>
<polygon points="310.42,389.9 316.17,397.5 310.42,405.1 304.67,397.5" fill="#5e4fa2" stroke="#111" stroke-width="0.9" stroke-linejoin="miter"/>
<polygon points="279.88,389.9 285.63,397.5 279.88,405.1 274.13,397.5" fill="#5e4fa2" stroke="#111" stroke-width="0.9" stroke-linejoin="miter"/>
<polygon points="249.34,389.9 255.09,397.5 249.34,405.1 243.59,397.5" fill="#5e4fa2" stroke="#111" stroke-width="0.9" stroke-linejoin="miter"/>
<polygon points="218.8,389.9 224.55,397.5 218.8,405.1 213.05,397.5" fill="#5e4fa2" stroke="#111" stroke-width="0.9" stroke-linejoin="miter"/>
<polygon points="188.26,389.9 194.01,397.5 188.26,405.1 182.51,397.5" fill="#5e4fa2" stroke="#111" stroke-width="0.9" stroke-linejoin="miter"/>
<polygon points="157.72,389.9 163.47,397.5 157.72,405.1 151.97,397.5" fill="#5e4fa2" stroke="#111" stroke-width="0.9" stroke-linejoin="miter"/>
<polygon points="127.18,389.9 132.93,397.5 127.18,405.1 121.43,397.5" fill="#5e4fa2" stroke="#111" stroke-width="0.9" stroke-linejoin="miter"/>
<polygon points="96.64,389.9 102.39,397.5 96.64,405.1 90.89,397.5" fill="#5e4fa2" stroke="#111" stroke-width="0.9" stroke-linejoin="miter"/>
<polygon points="66.1,389.9 71.85,397.5 66.1,405.1 60.35,397.5" fill="#5e4fa2" stroke="#111" stroke-width="0.9" stroke-linejoin="miter"/>
<polyline points="340.96,397.5 359.28,289.9 371.5,289.9 386.77,292.46 402.04,298.31 417.31,299.05 432.58,310.39 447.85,397.5" fill="none" stroke="#3a3a3a" stroke-width="0.85"/>
<polygon points="66.1,389.4 73.11,401.55 59.09,401.55" fill="#3288bd" stroke="#111" stroke-width="0.9" stroke-linejoin="miter"/>
<polygon points="96.64,389.4 103.65,401.55 89.63,401.55" fill="#3288bd" stroke="#111" stroke-width="0.9" stroke-linejoin="miter"/>
<polygon points="127.18,389.4 134.19,401.55 120.17,401.55" fill="#3288bd" stroke="#111" stroke-width="0.9" stroke-linejoin="miter"/>
<polygon points="157.72,389.4 164.73,401.55 150.71,401.55" fill="#3288bd" stroke="#111" stroke-width="0.9" stroke-linejoin="miter"/>
<polygon points="188.26,389.4 195.27,401.55 181.25,401.55" fill="#3288bd" stroke="#111" stroke-width="0.9" stroke-linejoin="miter"/>
<polygon points="218.8,389.4 225.81,401.55 211.79,401.55" fill="#3288bd" stroke="#111" stroke-width="0.9" stroke-linejoin="miter"/>
<polygon points="249.34,389.4 256.35,401.55 242.33,401.55" fill="#3288bd" stroke="#111" stroke-width="0.9" stroke-linejoin="miter"/>
<polygon points="279.88,389.4 286.89,401.55 272.87,401.55" fill="#3288bd" stroke="#111" stroke-width="0.9" stroke-linejoin="miter"/>
<polygon points="310.42,389.4 317.43,401.55 303.41,401.55" fill="#3288bd" stroke="#111" stroke-width="0.9" stroke-linejoin="miter"/>
<polygon points="340.96,389.4 347.97,401.55 333.95,401.55" fill="#3288bd" stroke="#111" stroke-width="0.9" stroke-linejoin="miter"/>
<polygon points="359.28,281.8 366.3,293.95 352.27,293.95" fill="#3288bd" stroke="#111" stroke-width="0.9" stroke-linejoin="miter"/>
<polygon points="371.5,281.8 378.51,293.95 364.49,293.95" fill="#3288bd" stroke="#111" stroke-width="0.9" stroke-linejoin="miter"/>
<polygon points="386.77,284.36 393.78,296.51 379.76,296.51" fill="#3288bd" stroke="#111" stroke-width="0.9" stroke-linejoin="miter"/>
<polygon points="402.04,290.21 409.05,302.36 395.03,302.36" fill="#3288bd" stroke="#111" stroke-width="0.9" stroke-linejoin="miter"/>
<polygon points="417.31,290.95 424.32,303.1 410.3,303.1" fill="#3288bd" stroke="#111" stroke-width="0.9" stroke-linejoin="miter"/>
<polygon points="432.58,302.29 439.59,314.44 425.57,314.44" fill="#3288bd" stroke="#111" stroke-width="0.9" stroke-linejoin="miter"/>
<polygon points="447.85,389.4 454.86,401.55 440.84,401.55" fill="#3288bd" stroke="#111" stroke-width="0.9" stroke-linejoin="miter"/>
<polyline points="432.58,397.5 417.31,251.47 402.04,297.22 386.77,291.36 371.5,288.8 356.23,289.53 340.96,397.5" fill="none" stroke="#1e1e1e" stroke-width="1.15" stroke-dasharray="1.8 2.7"/>
<polygon points="463.12,405.6 456.11,393.45 470.13,393.45" fill="#3288bd" stroke="#111" stroke-width="0.9" stroke-linejoin="miter"/>
<polygon points="432.58,405.6 425.57,393.45 439.59,393.45" fill="#3288bd" stroke="#111" stroke-width="0.9" stroke-linejoin="miter"/>
<polygon points="417.31,259.57 410.3,247.42 424.32,247.42" fill="#3288bd" stroke="#111" stroke-width="0.9" stroke-linejoin="miter"/>
<polygon points="402.04,305.32 395.03,293.17 409.05,293.17" fill="#3288bd" stroke="#111" stroke-width="0.9" stroke-linejoin="miter"/>
<polygon points="386.77,299.46 379.76,287.31 393.78,287.31" fill="#3288bd" stroke="#111" stroke-width="0.9" stroke-linejoin="miter"/>
<polygon points="371.5,296.9 364.49,284.75 378.51,284.75" fill="#3288bd" stroke="#111" stroke-width="0.9" stroke-linejoin="miter"/>
<polygon points="356.23,297.63 349.22,285.48 363.24,285.48" fill="#3288bd" stroke="#111" stroke-width="0.9" stroke-linejoin="miter"/>
<polygon points="340.96,405.6 333.95,393.45 347.97,393.45" fill="#3288bd" stroke="#111" stroke-width="0.9" stroke-linejoin="miter"/>
<polygon points="310.42,405.6 303.41,393.45 317.43,393.45" fill="#3288bd" stroke="#111" stroke-width="0.9" stroke-linejoin="miter"/>
<polygon points="279.88,405.6 272.87,393.45 286.89,393.45" fill="#3288bd" stroke="#111" stroke-width="0.9" stroke-linejoin="miter"/>
<polygon points="249.34,405.6 242.33,393.45 256.35,393.45" fill="#3288bd" stroke="#111" stroke-width="0.9" stroke-linejoin="miter"/>
<polygon points="218.8,405.6 211.79,393.45 225.81,393.45" fill="#3288bd" stroke="#111" stroke-width="0.9" stroke-linejoin="miter"/>
<polygon points="188.26,405.6 181.25,393.45 195.27,393.45" fill="#3288bd" stroke="#111" stroke-width="0.9" stroke-linejoin="miter"/>
<polygon points="157.72,405.6 150.71,393.45 164.73,393.45" fill="#3288bd" stroke="#111" stroke-width="0.9" stroke-linejoin="miter"/>
<polygon points="127.18,405.6 120.17,393.45 134.19,393.45" fill="#3288bd" stroke="#111" stroke-width="0.9" stroke-linejoin="miter"/>
<polygon points="96.64,405.6 89.63,393.45 103.65,393.45" fill="#3288bd" stroke="#111" stroke-width="0.9" stroke-linejoin="miter"/>
<polygon points="66.1,405.6 59.09,393.45 73.11,393.45" fill="#3288bd" stroke="#111" stroke-width="0.9" stroke-linejoin="miter"/>
<polyline points="340.96,397.5 359.28,265.37 371.5,275.99 386.77,274.52 402.04,275.99 417.31,278.92 432.58,286.6 447.85,304.17 455.49,397.5" fill="none" stroke="#3a3a3a" stroke-width="0.85"/>
<polygon points="74.2,397.5 62.05,404.51 62.05,390.49" fill="#66c2a5" stroke="#111" stroke-width="0.9" stroke-linejoin="miter"/>
<polygon points="104.74,397.5 92.59,404.51 92.59,390.49" fill="#66c2a5" stroke="#111" stroke-width="0.9" stroke-linejoin="miter"/>
<polygon points="135.28,397.5 123.13,404.51 123.13,390.49" fill="#66c2a5" stroke="#111" stroke-width="0.9" stroke-linejoin="miter"/>
<polygon points="165.82,397.5 153.67,404.51 153.67,390.49" fill="#66c2a5" stroke="#111" stroke-width="0.9" stroke-linejoin="miter"/>
<polygon points="196.36,397.5 184.21,404.51 184.21,390.49" fill="#66c2a5" stroke="#111" stroke-width="0.9" stroke-linejoin="miter"/>
<polygon points="226.9,397.5 214.75,404.51 214.75,390.49" fill="#66c2a5" stroke="#111" stroke-width="0.9" stroke-linejoin="miter"/>
<polygon points="257.44,397.5 245.29,404.51 245.29,390.49" fill="#66c2a5" stroke="#111" stroke-width="0.9" stroke-linejoin="miter"/>
<polygon points="287.98,397.5 275.83,404.51 275.83,390.49" fill="#66c2a5" stroke="#111" stroke-width="0.9" stroke-linejoin="miter"/>
<polygon points="318.52,397.5 306.37,404.51 306.37,390.49" fill="#66c2a5" stroke="#111" stroke-width="0.9" stroke-linejoin="miter"/>
<polygon points="349.06,397.5 336.91,404.51 336.91,390.49" fill="#66c2a5" stroke="#111" stroke-width="0.9" stroke-linejoin="miter"/>
<polygon points="367.38,265.37 355.23,272.39 355.23,258.36" fill="#66c2a5" stroke="#111" stroke-width="0.9" stroke-linejoin="miter"/>
<polygon points="379.6,275.99 367.45,283 367.45,268.97" fill="#66c2a5" stroke="#111" stroke-width="0.9" stroke-linejoin="miter"/>
<polygon points="394.87,274.52 382.72,281.54 382.72,267.51" fill="#66c2a5" stroke="#111" stroke-width="0.9" stroke-linejoin="miter"/>
<polygon points="410.14,275.99 397.99,283 397.99,268.97" fill="#66c2a5" stroke="#111" stroke-width="0.9" stroke-linejoin="miter"/>
<polygon points="425.41,278.92 413.26,285.93 413.26,271.9" fill="#66c2a5" stroke="#111" stroke-width="0.9" stroke-linejoin="miter"/>
<polygon points="440.68,286.6 428.53,293.62 428.53,279.59" fill="#66c2a5" stroke="#111" stroke-width="0.9" stroke-linejoin="miter"/>
<polygon points="455.95,304.17 443.8,311.18 443.8,297.16" fill="#66c2a5" stroke="#111" stroke-width="0.9" stroke-linejoin="miter"/>
<polygon points="463.59,397.5 451.44,404.51 451.44,390.49" fill="#66c2a5" stroke="#111" stroke-width="0.9" stroke-linejoin="miter"/>
<polyline points="402.04,397.5 392.88,270.86 371.5,270.86 356.23,270.86 340.96,266.84 325.69,397.5" fill="none" stroke="#1e1e1e" stroke-width="1.15" stroke-dasharray="1.8 2.7"/>
<polygon points="463.12,391.2 464.65,395.4 469.11,395.55 465.59,398.3 466.82,402.6 463.12,400.1 459.42,402.6 460.65,398.3 457.13,395.55 461.59,395.4" fill="#66c2a5" stroke="#111" stroke-width="0.9" stroke-linejoin="miter"/>
<polygon points="432.58,391.2 434.11,395.4 438.57,395.55 435.05,398.3 436.28,402.6 432.58,400.1 428.88,402.6 430.11,398.3 426.59,395.55 431.05,395.4" fill="#66c2a5" stroke="#111" stroke-width="0.9" stroke-linejoin="miter"/>
<polygon points="402.04,391.2 403.57,395.4 408.03,395.55 404.51,398.3 405.74,402.6 402.04,400.1 398.34,402.6 399.57,398.3 396.05,395.55 400.51,395.4" fill="#66c2a5" stroke="#111" stroke-width="0.9" stroke-linejoin="miter"/>
<polygon points="392.88,264.56 394.41,268.76 398.87,268.92 395.35,271.67 396.58,275.96 392.88,273.46 389.17,275.96 390.41,271.67 386.89,268.92 391.35,268.76" fill="#66c2a5" stroke="#111" stroke-width="0.9" stroke-linejoin="miter"/>
<polygon points="371.5,264.56 373.03,268.76 377.49,268.92 373.97,271.67 375.2,275.96 371.5,273.46 367.8,275.96 369.03,271.67 365.51,268.92 369.97,268.76" fill="#66c2a5" stroke="#111" stroke-width="0.9" stroke-linejoin="miter"/>
<polygon points="356.23,264.56 357.76,268.76 362.22,268.92 358.7,271.67 359.93,275.96 356.23,273.46 352.53,275.96 353.76,271.67 350.24,268.92 354.7,268.76" fill="#66c2a5" stroke="#111" stroke-width="0.9" stroke-linejoin="miter"/>
<polygon points="340.96,260.54 342.49,264.73 346.95,264.89 343.43,267.64 344.66,271.93 340.96,269.44 337.26,271.93 338.49,267.64 334.97,264.89 339.43,264.73" fill="#66c2a5" stroke="#111" stroke-width="0.9" stroke-linejoin="miter"/>
<polygon points="325.69,391.2 327.22,395.4 331.68,395.55 328.16,398.3 329.39,402.6 325.69,400.1 321.99,402.6 323.22,398.3 319.7,395.55 324.16,395.4" fill="#66c2a5" stroke="#111" stroke-width="0.9" stroke-linejoin="miter"/>
<polygon points="310.42,391.2 311.95,395.4 316.41,395.55 312.89,398.3 314.12,402.6 310.42,400.1 306.72,402.6 307.95,398.3 304.43,395.55 308.89,395.4" fill="#66c2a5" stroke="#111" stroke-width="0.9" stroke-linejoin="miter"/>
<polygon points="279.88,391.2 281.41,395.4 285.87,395.55 282.35,398.3 283.58,402.6 279.88,400.1 276.18,402.6 277.41,398.3 273.89,395.55 278.35,395.4" fill="#66c2a5" stroke="#111" stroke-width="0.9" stroke-linejoin="miter"/>
<polygon points="249.34,391.2 250.87,395.4 255.33,395.55 251.81,398.3 253.04,402.6 249.34,400.1 245.64,402.6 246.87,398.3 243.35,395.55 247.81,395.4" fill="#66c2a5" stroke="#111" stroke-width="0.9" stroke-linejoin="miter"/>
<polygon points="218.8,391.2 220.33,395.4 224.79,395.55 221.27,398.3 222.5,402.6 218.8,400.1 215.1,402.6 216.33,398.3 212.81,395.55 217.27,395.4" fill="#66c2a5" stroke="#111" stroke-width="0.9" stroke-linejoin="miter"/>
<polygon points="188.26,391.2 189.79,395.4 194.25,395.55 190.73,398.3 191.96,402.6 188.26,400.1 184.56,402.6 185.79,398.3 182.27,395.55 186.73,395.4" fill="#66c2a5" stroke="#111" stroke-width="0.9" stroke-linejoin="miter"/>
<polygon points="157.72,391.2 159.25,395.4 163.71,395.55 160.19,398.3 161.42,402.6 157.72,400.1 154.02,402.6 155.25,398.3 151.73,395.55 156.19,395.4" fill="#66c2a5" stroke="#111" stroke-width="0.9" stroke-linejoin="miter"/>
<polygon points="127.18,391.2 128.71,395.4 133.17,395.55 129.65,398.3 130.88,402.6 127.18,400.1 123.48,402.6 124.71,398.3 121.19,395.55 125.65,395.4" fill="#66c2a5" stroke="#111" stroke-width="0.9" stroke-linejoin="miter"/>
<polygon points="96.64,391.2 98.17,395.4 102.63,395.55 99.11,398.3 100.34,402.6 96.64,400.1 92.94,402.6 94.17,398.3 90.65,395.55 95.11,395.4" fill="#66c2a5" stroke="#111" stroke-width="0.9" stroke-linejoin="miter"/>
<polygon points="66.1,391.2 67.63,395.4 72.09,395.55 68.57,398.3 69.8,402.6 66.1,400.1 62.4,402.6 63.63,398.3 60.11,395.55 64.57,395.4" fill="#66c2a5" stroke="#111" stroke-width="0.9" stroke-linejoin="miter"/>
<polyline points="340.96,397.5 356.23,250.37 371.5,250.37 386.77,256.59 402.04,256.59 417.31,261.71 432.58,266.84 447.85,270.86 463.12,282.58 477.78,300.88 485.41,397.5" fill="none" stroke="#3a3a3a" stroke-width="0.85"/>
<polygon points="58,397.5 70.15,390.49 70.15,404.51" fill="#e6f598" stroke="#111" stroke-width="0.9" stroke-linejoin="miter"/>
<polygon points="88.54,397.5 100.69,390.49 100.69,404.51" fill="#e6f598" stroke="#111" stroke-width="0.9" stroke-linejoin="miter"/>
<polygon points="119.08,397.5 131.23,390.49 131.23,404.51" fill="#e6f598" stroke="#111" stroke-width="0.9" stroke-linejoin="miter"/>
<polygon points="149.62,397.5 161.77,390.49 161.77,404.51" fill="#e6f598" stroke="#111" stroke-width="0.9" stroke-linejoin="miter"/>
<polygon points="180.16,397.5 192.31,390.49 192.31,404.51" fill="#e6f598" stroke="#111" stroke-width="0.9" stroke-linejoin="miter"/>
<polygon points="210.7,397.5 222.85,390.49 222.85,404.51" fill="#e6f598" stroke="#111" stroke-width="0.9" stroke-linejoin="miter"/>
<polygon points="241.24,397.5 253.39,390.49 253.39,404.51" fill="#e6f598" stroke="#111" stroke-width="0.9" stroke-linejoin="miter"/>
<polygon points="271.78,397.5 283.93,390.49 283.93,404.51" fill="#e6f598" stroke="#111" stroke-width="0.9" stroke-linejoin="miter"/>
<polygon points="302.32,397.5 314.47,390.49 314.47,404.51" fill="#e6f598" stroke="#111" stroke-width="0.9" stroke-linejoin="miter"/>
<polygon points="332.86,397.5 345.01,390.49 345.01,404.51" fill="#e6f598" stroke="#111" stroke-width="0.9" stroke-linejoin="miter"/>
<polygon points="348.13,250.37 360.28,243.35 360.28,257.38" fill="#e6f598" stroke="#111" stroke-width="0.9" stroke-linejoin="miter"/>
<polygon points="363.4,250.37 375.55,243.35 375.55,257.38" fill="#e6f598" stroke="#111" stroke-width="0.9" stroke-linejoin="miter"/>
<polygon points="378.67,256.59 390.82,249.58 390.82,263.6" fill="#e6f598" stroke="#111" stroke-width="0.9" stroke-linejoin="miter"/>
<polygon points="393.94,256.59 406.09,249.58 406.09,263.6" fill="#e6f598" stroke="#111" stroke-width="0.9" stroke-linejoin="miter"/>
<polygon points="409.21,261.71 421.36,254.7 421.36,268.73" fill="#e6f598" stroke="#111" stroke-width="0.9" stroke-linejoin="miter"/>
<polygon points="424.48,266.84 436.63,259.82 436.63,273.85" fill="#e6f598" stroke="#111" stroke-width="0.9" stroke-linejoin="miter"/>
<polygon points="439.75,270.86 451.9,263.85 451.9,277.88" fill="#e6f598" stroke="#111" stroke-width="0.9" stroke-linejoin="miter"/>
<polygon points="455.02,282.58 467.17,275.56 467.17,289.59" fill="#e6f598" stroke="#111" stroke-width="0.9" stroke-linejoin="miter"/>
<polygon points="469.68,300.88 481.83,293.86 481.83,307.89" fill="#e6f598" stroke="#111" stroke-width="0.9" stroke-linejoin="miter"/>
<polygon points="477.31,397.5 489.46,390.49 489.46,404.51" fill="#e6f598" stroke="#111" stroke-width="0.9" stroke-linejoin="miter"/>
<polygon points="485.56,397.5 497.71,390.49 497.71,404.51" fill="#e6f598" stroke="#111" stroke-width="0.9" stroke-linejoin="miter"/>
<polyline points="463.12,397.5 453.96,282.58 432.58,266.84 417.31,261.71 402.04,256.59 386.77,251.47 371.5,250.37 356.23,250.37 340.96,244.51 325.69,256.59 310.42,397.5" fill="none" stroke="#1e1e1e" stroke-width="1.15" stroke-dasharray="1.8 2.7"/>
<polygon points="493.66,391.3 495.46,394.38 499.03,394.4 497.26,397.5 499.03,400.6 495.46,400.62 493.66,403.7 491.86,400.62 488.29,400.6 490.06,397.5 488.29,394.4 491.86,394.38" fill="#e6f598" stroke="#111" stroke-width="0.9" stroke-linejoin="miter"/>
<polygon points="463.12,391.3 464.92,394.38 468.49,394.4 466.72,397.5 468.49,400.6 464.92,400.62 463.12,403.7 461.32,400.62 457.75,400.6 459.52,397.5 457.75,394.4 461.32,394.38" fill="#e6f598" stroke="#111" stroke-width="0.9" stroke-linejoin="miter"/>
<polygon points="453.96,276.38 455.76,279.46 459.33,279.48 457.56,282.58 459.33,285.68 455.76,285.69 453.96,288.78 452.16,285.69 448.59,285.68 450.36,282.58 448.59,279.48 452.16,279.46" fill="#e6f598" stroke="#111" stroke-width="0.9" stroke-linejoin="miter"/>
<polygon points="432.58,260.64 434.38,263.72 437.95,263.74 436.18,266.84 437.95,269.94 434.38,269.96 432.58,273.04 430.78,269.96 427.21,269.94 428.98,266.84 427.21,263.74 430.78,263.72" fill="#e6f598" stroke="#111" stroke-width="0.9" stroke-linejoin="miter"/>
<polygon points="417.31,255.51 419.11,258.6 422.68,258.61 420.91,261.71 422.68,264.81 419.11,264.83 417.31,267.91 415.51,264.83 411.94,264.81 413.71,261.71 411.94,258.61 415.51,258.6" fill="#e6f598" stroke="#111" stroke-width="0.9" stroke-linejoin="miter"/>
<polygon points="402.04,250.39 403.84,253.47 407.41,253.49 405.64,256.59 407.41,259.69 403.84,259.71 402.04,262.79 400.24,259.71 396.67,259.69 398.44,256.59 396.67,253.49 400.24,253.47" fill="#e6f598" stroke="#111" stroke-width="0.9" stroke-linejoin="miter"/>
<polygon points="386.77,245.27 388.57,248.35 392.14,248.37 390.37,251.47 392.14,254.57 388.57,254.58 386.77,257.67 384.97,254.58 381.4,254.57 383.17,251.47 381.4,248.37 384.97,248.35" fill="#e6f598" stroke="#111" stroke-width="0.9" stroke-linejoin="miter"/>
<polygon points="371.5,244.17 373.3,247.25 376.87,247.27 375.1,250.37 376.87,253.47 373.3,253.49 371.5,256.57 369.7,253.49 366.13,253.47 367.9,250.37 366.13,247.27 369.7,247.25" fill="#e6f598" stroke="#111" stroke-width="0.9" stroke-linejoin="miter"/>
<polygon points="356.23,244.17 358.03,247.25 361.6,247.27 359.83,250.37 361.6,253.47 358.03,253.49 356.23,256.57 354.43,253.49 350.86,253.47 352.63,250.37 350.86,247.27 354.43,247.25" fill="#e6f598" stroke="#111" stroke-width="0.9" stroke-linejoin="miter"/>
<polygon points="340.96,238.31 342.76,241.39 346.33,241.41 344.56,244.51 346.33,247.61 342.76,247.63 340.96,250.71 339.16,247.63 335.59,247.61 337.36,244.51 335.59,241.41 339.16,241.39" fill="#e6f598" stroke="#111" stroke-width="0.9" stroke-linejoin="miter"/>
<polygon points="325.69,250.39 327.49,253.47 331.06,253.49 329.29,256.59 331.06,259.69 327.49,259.71 325.69,262.79 323.89,259.71 320.32,259.69 322.09,256.59 320.32,253.49 323.89,253.47" fill="#e6f598" stroke="#111" stroke-width="0.9" stroke-linejoin="miter"/>
<polygon points="310.42,391.3 312.22,394.38 315.79,394.4 314.02,397.5 315.79,400.6 312.22,400.62 310.42,403.7 308.62,400.62 305.05,400.6 306.82,397.5 305.05,394.4 308.62,394.38" fill="#e6f598" stroke="#111" stroke-width="0.9" stroke-linejoin="miter"/>
<polygon points="279.88,391.3 281.68,394.38 285.25,394.4 283.48,397.5 285.25,400.6 281.68,400.62 279.88,403.7 278.08,400.62 274.51,400.6 276.28,397.5 274.51,394.4 278.08,394.38" fill="#e6f598" stroke="#111" stroke-width="0.9" stroke-linejoin="miter"/>
<polygon points="249.34,391.3 251.14,394.38 254.71,394.4 252.94,397.5 254.71,400.6 251.14,400.62 249.34,403.7 247.54,400.62 243.97,400.6 245.74,397.5 243.97,394.4 247.54,394.38" fill="#e6f598" stroke="#111" stroke-width="0.9" stroke-linejoin="miter"/>
<polygon points="218.8,391.3 220.6,394.38 224.17,394.4 222.4,397.5 224.17,400.6 220.6,400.62 218.8,403.7 217,400.62 213.43,400.6 215.2,397.5 213.43,394.4 217,394.38" fill="#e6f598" stroke="#111" stroke-width="0.9" stroke-linejoin="miter"/>
<polygon points="188.26,391.3 190.06,394.38 193.63,394.4 191.86,397.5 193.63,400.6 190.06,400.62 188.26,403.7 186.46,400.62 182.89,400.6 184.66,397.5 182.89,394.4 186.46,394.38" fill="#e6f598" stroke="#111" stroke-width="0.9" stroke-linejoin="miter"/>
<polygon points="157.72,391.3 159.52,394.38 163.09,394.4 161.32,397.5 163.09,400.6 159.52,400.62 157.72,403.7 155.92,400.62 152.35,400.6 154.12,397.5 152.35,394.4 155.92,394.38" fill="#e6f598" stroke="#111" stroke-width="0.9" stroke-linejoin="miter"/>
<polygon points="127.18,391.3 128.98,394.38 132.55,394.4 130.78,397.5 132.55,400.6 128.98,400.62 127.18,403.7 125.38,400.62 121.81,400.6 123.58,397.5 121.81,394.4 125.38,394.38" fill="#e6f598" stroke="#111" stroke-width="0.9" stroke-linejoin="miter"/>
<polygon points="96.64,391.3 98.44,394.38 102.01,394.4 100.24,397.5 102.01,400.6 98.44,400.62 96.64,403.7 94.84,400.62 91.27,400.6 93.04,397.5 91.27,394.4 94.84,394.38" fill="#e6f598" stroke="#111" stroke-width="0.9" stroke-linejoin="miter"/>
<polygon points="66.1,391.3 67.9,394.38 71.47,394.4 69.7,397.5 71.47,400.6 67.9,400.62 66.1,403.7 64.3,400.62 60.73,400.6 62.5,397.5 60.73,394.4 64.3,394.38" fill="#e6f598" stroke="#111" stroke-width="0.9" stroke-linejoin="miter"/>
</g>
<g>
<line x1="66.1" y1="602.5" x2="493.66" y2="602.5" stroke="#555" stroke-width="1"/>
<polyline points="432.58,602.5 463.12,582.37 478.39,602.5" fill="none" stroke="#3a3a3a" stroke-width="0.85"/>
<rect x="61.6" y="598" width="9" height="9" fill="#5e4fa2" stroke="#111" stroke-width="0.9"/>
<rect x="92.14" y="598" width="9" height="9" fill="#5e4fa2" stroke="#111" stroke-width="0.9"/>
<rect x="122.68" y="598" width="9" height="9" fill="#5e4fa2" stroke="#111" stroke-width="0.9"/>
<rect x="153.22" y="598" width="9" height="9" fill="#5e4fa2" stroke="#111" stroke-width="0.9"/>
<rect x="183.76" y="598" width="9" height="9" fill="#5e4fa2" stroke="#111" stroke-width="0.9"/>
<rect x="214.3" y="598" width="9" height="9" fill="#5e4fa2" stroke="#111" stroke-width="0.9"/>
<rect x="244.84" y="598" width="9" height="9" fill="#5e4fa2" stroke="#111" stroke-width="0.9"/>
<rect x="275.38" y="598" width="9" height="9" fill="#5e4fa2" stroke="#111" stroke-width="0.9"/>
<rect x="305.92" y="598" width="9" height="9" fill="#5e4fa2" stroke="#111" stroke-width="0.9"/>
<rect x="336.46" y="598" width="9" height="9" fill="#5e4fa2" stroke="#111" stroke-width="0.9"/>
<rect x="367" y="598" width="9" height="9" fill="#5e4fa2" stroke="#111" stroke-width="0.9"/>
<rect x="397.54" y="598" width="9" height="9" fill="#5e4fa2" stroke="#111" stroke-width="0.9"/>
<rect x="428.08" y="598" width="9" height="9" fill="#5e4fa2" stroke="#111" stroke-width="0.9"/>
<rect x="458.62" y="577.87" width="9" height="9" fill="#5e4fa2" stroke="#111" stroke-width="0.9"/>
<rect x="473.89" y="598" width="9" height="9" fill="#5e4fa2" stroke="#111" stroke-width="0.9"/>
<polyline points="463.12,602.5 432.58,584.2 417.31,587.25 402.04,590.91 389.82,602.5" fill="none" stroke="#1e1e1e" stroke-width="1.15" stroke-dasharray="1.8 2.7"/>
<polygon points="478.39,594.9 484.14,602.5 478.39,610.1 472.64,602.5" fill="#5e4fa2" stroke="#111" stroke-width="0.9" stroke-linejoin="miter"/>
<polygon points="463.12,594.9 468.87,602.5 463.12,610.1 457.37,602.5" fill="#5e4fa2" stroke="#111" stroke-width="0.9" stroke-linejoin="miter"/>
<polygon points="432.58,576.6 438.33,584.2 432.58,591.8 426.83,584.2" fill="#5e4fa2" stroke="#111" stroke-width="0.9" stroke-linejoin="miter"/>
<polygon points="417.31,579.65 423.06,587.25 417.31,594.85 411.56,587.25" fill="#5e4fa2" stroke="#111" stroke-width="0.9" stroke-linejoin="miter"/>
<polygon points="402.04,583.31 407.79,590.91 402.04,598.51 396.29,590.91" fill="#5e4fa2" stroke="#111" stroke-width="0.9" stroke-linejoin="miter"/>
<polygon points="389.82,594.9 395.57,602.5 389.82,610.1 384.07,602.5" fill="#5e4fa2" stroke="#111" stroke-width="0.9" stroke-linejoin="miter"/>
<polygon points="371.5,594.9 377.25,602.5 371.5,610.1 365.75,602.5" fill="#5e4fa2" stroke="#111" stroke-width="0.9" stroke-linejoin="miter"/>
<polygon points="340.96,594.9 346.71,602.5 340.96,610.1 335.21,602.5" fill="#5e4fa2" stroke="#111" stroke-width="0.9" stroke-linejoin="miter"/>
<polygon points="310.42,594.9 316.17,602.5 310.42,610.1 304.67,602.5" fill="#5e4fa2" stroke="#111" stroke-width="0.9" stroke-linejoin="miter"/>
<polygon points="279.88,594.9 285.63,602.5 279.88,610.1 274.13,602.5" fill="#5e4fa2" stroke="#111" stroke-width="0.9" stroke-linejoin="miter"/>
<polygon points="249.34,594.9 255.09,602.5 249.34,610.1 243.59,602.5" fill="#5e4fa2" stroke="#111" stroke-width="0.9" stroke-linejoin="miter"/>
<polygon points="218.8,594.9 224.55,602.5 218.8,610.1 213.05,602.5" fill="#5e4fa2" stroke="#111" stroke-width="0.9" stroke-linejoin="miter"/>
<polygon points="188.26,594.9 194.01,602.5 188.26,610.1 182.51,602.5" fill="#5e4fa2" stroke="#111" stroke-width="0.9" stroke-linejoin="miter"/>
<polygon points="157.72,594.9 163.47,602.5 157.72,610.1 151.97,602.5" fill="#5e4fa2" stroke="#111" stroke-width="0.9" stroke-linejoin="miter"/>
<polygon points="127.18,594.9 132.93,602.5 127.18,610.1 121.43,602.5" fill="#5e4fa2" stroke="#111" stroke-width="0.9" stroke-linejoin="miter"/>
<polygon points="96.64,594.9 102.39,602.5 96.64,610.1 90.89,602.5" fill="#5e4fa2" stroke="#111" stroke-width="0.9" stroke-linejoin="miter"/>
<polygon points="66.1,594.9 71.85,602.5 66.1,610.1 60.35,602.5" fill="#5e4fa2" stroke="#111" stroke-width="0.9" stroke-linejoin="miter"/>
<polyline points="340.96,602.5 359.28,574.13 371.5,565.6 386.77,560.72 402.04,558.27 417.31,560.72 432.58,565.6 447.85,602.5" fill="none" stroke="#3a3a3a" stroke-width="0.85"/>
<polygon points="66.1,594.4 73.11,606.55 59.09,606.55" fill="#3288bd" stroke="#111" stroke-width="0.9" stroke-linejoin="miter"/>
<polygon points="96.64,594.4 103.65,606.55 89.63,606.55" fill="#3288bd" stroke="#111" stroke-width="0.9" stroke-linejoin="miter"/>
<polygon points="127.18,594.4 134.19,606.55 120.17,606.55" fill="#3288bd" stroke="#111" stroke-width="0.9" stroke-linejoin="miter"/>
<polygon points="157.72,594.4 164.73,606.55 150.71,606.55" fill="#3288bd" stroke="#111" stroke-width="0.9" stroke-linejoin="miter"/>
<polygon points="188.26,594.4 195.27,606.55 181.25,606.55" fill="#3288bd" stroke="#111" stroke-width="0.9" stroke-linejoin="miter"/>
<polygon points="218.8,594.4 225.81,606.55 211.79,606.55" fill="#3288bd" stroke="#111" stroke-width="0.9" stroke-linejoin="miter"/>
<polygon points="249.34,594.4 256.35,606.55 242.33,606.55" fill="#3288bd" stroke="#111" stroke-width="0.9" stroke-linejoin="miter"/>
<polygon points="279.88,594.4 286.89,606.55 272.87,606.55" fill="#3288bd" stroke="#111" stroke-width="0.9" stroke-linejoin="miter"/>
<polygon points="310.42,594.4 317.43,606.55 303.41,606.55" fill="#3288bd" stroke="#111" stroke-width="0.9" stroke-linejoin="miter"/>
<polygon points="340.96,594.4 347.97,606.55 333.95,606.55" fill="#3288bd" stroke="#111" stroke-width="0.9" stroke-linejoin="miter"/>
<polygon points="359.28,566.03 366.3,578.18 352.27,578.18" fill="#3288bd" stroke="#111" stroke-width="0.9" stroke-linejoin="miter"/>
<polygon points="371.5,557.5 378.51,569.64 364.49,569.64" fill="#3288bd" stroke="#111" stroke-width="0.9" stroke-linejoin="miter"/>
<polygon points="386.77,552.62 393.78,564.76 379.76,564.76" fill="#3288bd" stroke="#111" stroke-width="0.9" stroke-linejoin="miter"/>
<polygon points="402.04,550.17 409.05,562.32 395.03,562.32" fill="#3288bd" stroke="#111" stroke-width="0.9" stroke-linejoin="miter"/>
<polygon points="417.31,552.62 424.32,564.76 410.3,564.76" fill="#3288bd" stroke="#111" stroke-width="0.9" stroke-linejoin="miter"/>
<polygon points="432.58,557.5 439.59,569.64 425.57,569.64" fill="#3288bd" stroke="#111" stroke-width="0.9" stroke-linejoin="miter"/>
<polygon points="447.85,594.4 454.86,606.55 440.84,606.55" fill="#3288bd" stroke="#111" stroke-width="0.9" stroke-linejoin="miter"/>
<polyline points="432.58,602.5 417.31,573.22 402.04,561.02 386.77,564.07 371.5,567.73 356.23,574.44 340.96,602.5" fill="none" stroke="#1e1e1e" stroke-width="1.15" stroke-dasharray="1.8 2.7"/>
<polygon points="463.12,610.6 456.11,598.45 470.13,598.45" fill="#3288bd" stroke="#111" stroke-width="0.9" stroke-linejoin="miter"/>
<polygon points="432.58,610.6 425.57,598.45 439.59,598.45" fill="#3288bd" stroke="#111" stroke-width="0.9" stroke-linejoin="miter"/>
<polygon points="417.31,581.32 410.3,569.17 424.32,569.17" fill="#3288bd" stroke="#111" stroke-width="0.9" stroke-linejoin="miter"/>
<polygon points="402.04,569.12 395.03,556.97 409.05,556.97" fill="#3288bd" stroke="#111" stroke-width="0.9" stroke-linejoin="miter"/>
<polygon points="386.77,572.17 379.76,560.02 393.78,560.02" fill="#3288bd" stroke="#111" stroke-width="0.9" stroke-linejoin="miter"/>
<polygon points="371.5,575.83 364.49,563.68 378.51,563.68" fill="#3288bd" stroke="#111" stroke-width="0.9" stroke-linejoin="miter"/>
<polygon points="356.23,582.54 349.22,570.39 363.24,570.39" fill="#3288bd" stroke="#111" stroke-width="0.9" stroke-linejoin="miter"/>
<polygon points="340.96,610.6 333.95,598.45 347.97,598.45" fill="#3288bd" stroke="#111" stroke-width="0.9" stroke-linejoin="miter"/>
<polygon points="310.42,610.6 303.41,598.45 317.43,598.45" fill="#3288bd" stroke="#111" stroke-width="0.9" stroke-linejoin="miter"/>
<polygon points="279.88,610.6 272.87,598.45 286.89,598.45" fill="#3288bd" stroke="#111" stroke-width="0.9" stroke-linejoin="miter"/>
<polygon points="249.34,610.6 242.33,598.45 256.35,598.45" fill="#3288bd" stroke="#111" stroke-width="0.9" stroke-linejoin="miter"/>
<polygon points="218.8,610.6 211.79,598.45 225.81,598.45" fill="#3288bd" stroke="#111" stroke-width="0.9" stroke-linejoin="miter"/>
<polygon points="188.26,610.6 181.25,598.45 195.27,598.45" fill="#3288bd" stroke="#111" stroke-width="0.9" stroke-linejoin="miter"/>
<polygon points="157.72,610.6 150.71,598.45 164.73,598.45" fill="#3288bd" stroke="#111" stroke-width="0.9" stroke-linejoin="miter"/>
<polygon points="127.18,610.6 120.17,598.45 134.19,598.45" fill="#3288bd" stroke="#111" stroke-width="0.9" stroke-linejoin="miter"/>
<polygon points="96.64,610.6 89.63,598.45 103.65,598.45" fill="#3288bd" stroke="#111" stroke-width="0.9" stroke-linejoin="miter"/>
<polygon points="66.1,610.6 59.09,598.45 73.11,598.45" fill="#3288bd" stroke="#111" stroke-width="0.9" stroke-linejoin="miter"/>
<polyline points="340.96,602.5 359.28,523.81 371.5,517.71 386.77,511.61 402.04,508.56 417.31,507.95 432.58,514.66 447.85,525.03 455.49,602.5" fill="none" stroke="#3a3a3a" stroke-width="0.85"/>
<polygon points="74.2,602.5 62.05,609.51 62.05,595.49" fill="#66c2a5" stroke="#111" stroke-width="0.9" stroke-linejoin="miter"/>
<polygon points="104.74,602.5 92.59,609.51 92.59,595.49" fill="#66c2a5" stroke="#111" stroke-width="0.9" stroke-linejoin="miter"/>
<polygon points="135.28,602.5 123.13,609.51 123.13,595.49" fill="#66c2a5" stroke="#111" stroke-width="0.9" stroke-linejoin="miter"/>
<polygon points="165.82,602.5 153.67,609.51 153.67,595.49" fill="#66c2a5" stroke="#111" stroke-width="0.9" stroke-linejoin="miter"/>
<polygon points="196.36,602.5 184.21,609.51 184.21,595.49" fill="#66c2a5" stroke="#111" stroke-width="0.9" stroke-linejoin="miter"/>
<polygon points="226.9,602.5 214.75,609.51 214.75,595.49" fill="#66c2a5" stroke="#111" stroke-width="0.9" stroke-linejoin="miter"/>
<polygon points="257.44,602.5 245.29,609.51 245.29,595.49" fill="#66c2a5" stroke="#111" stroke-width="0.9" stroke-linejoin="miter"/>
<polygon points="287.98,602.5 275.83,609.51 275.83,595.49" fill="#66c2a5" stroke="#111" stroke-width="0.9" stroke-linejoin="miter"/>
<polygon points="318.52,602.5 306.37,609.51 306.37,595.49" fill="#66c2a5" stroke="#111" stroke-width="0.9" stroke-linejoin="miter"/>
<polygon points="349.06,602.5 336.91,609.51 336.91,595.49" fill="#66c2a5" stroke="#111" stroke-width="0.9" stroke-linejoin="miter"/>
<polygon points="367.38,523.81 355.23,530.82 355.23,516.8" fill="#66c2a5" stroke="#111" stroke-width="0.9" stroke-linejoin="miter"/>
<polygon points="379.6,517.71 367.45,524.72 367.45,510.7" fill="#66c2a5" stroke="#111" stroke-width="0.9" stroke-linejoin="miter"/>
<polygon points="394.87,511.61 382.72,518.62 382.72,504.6" fill="#66c2a5" stroke="#111" stroke-width="0.9" stroke-linejoin="miter"/>
<polygon points="410.14,508.56 397.99,515.57 397.99,501.55" fill="#66c2a5" stroke="#111" stroke-width="0.9" stroke-linejoin="miter"/>
<polygon points="425.41,507.95 413.26,514.96 413.26,500.94" fill="#66c2a5" stroke="#111" stroke-width="0.9" stroke-linejoin="miter"/>
<polygon points="440.68,514.66 428.53,521.67 428.53,507.65" fill="#66c2a5" stroke="#111" stroke-width="0.9" stroke-linejoin="miter"/>
<polygon points="455.95,525.03 443.8,532.04 443.8,518.02" fill="#66c2a5" stroke="#111" stroke-width="0.9" stroke-linejoin="miter"/>
<polygon points="463.59,602.5 451.44,609.51 451.44,595.49" fill="#66c2a5" stroke="#111" stroke-width="0.9" stroke-linejoin="miter"/>
<polyline points="402.04,602.5 392.88,518.32 371.5,520.76 356.23,528.69 340.96,537.84 325.69,602.5" fill="none" stroke="#1e1e1e" stroke-width="1.15" stroke-dasharray="1.8 2.7"/>
<polygon points="463.12,596.2 464.65,600.4 469.11,600.55 465.59,603.3 466.82,607.6 463.12,605.1 459.42,607.6 460.65,603.3 457.13,600.55 461.59,600.4" fill="#66c2a5" stroke="#111" stroke-width="0.9" stroke-linejoin="miter"/>
<polygon points="432.58,596.2 434.11,600.4 438.57,600.55 435.05,603.3 436.28,607.6 432.58,605.1 428.88,607.6 430.11,603.3 426.59,600.55 431.05,600.4" fill="#66c2a5" stroke="#111" stroke-width="0.9" stroke-linejoin="miter"/>
<polygon points="402.04,596.2 403.57,600.4 408.03,600.55 404.51,603.3 405.74,607.6 402.04,605.1 398.34,607.6 399.57,603.3 396.05,600.55 400.51,600.4" fill="#66c2a5" stroke="#111" stroke-width="0.9" stroke-linejoin="miter"/>
<polygon points="392.88,512.02 394.41,516.22 398.87,516.37 395.35,519.12 396.58,523.42 392.88,520.92 389.17,523.42 390.41,519.12 386.89,516.37 391.35,516.22" fill="#66c2a5" stroke="#111" stroke-width="0.9" stroke-linejoin="miter"/>
<polygon points="371.5,514.46 373.03,518.66 377.49,518.81 373.97,521.56 375.2,525.86 371.5,523.36 367.8,525.86 369.03,521.56 365.51,518.81 369.97,518.66" fill="#66c2a5" stroke="#111" stroke-width="0.9" stroke-linejoin="miter"/>
<polygon points="356.23,522.39 357.76,526.59 362.22,526.74 358.7,529.49 359.93,533.79 356.23,531.29 352.53,533.79 353.76,529.49 350.24,526.74 354.7,526.59" fill="#66c2a5" stroke="#111" stroke-width="0.9" stroke-linejoin="miter"/>
<polygon points="340.96,531.54 342.49,535.74 346.95,535.89 343.43,538.64 344.66,542.94 340.96,540.44 337.26,542.94 338.49,538.64 334.97,535.89 339.43,535.74" fill="#66c2a5" stroke="#111" stroke-width="0.9" stroke-linejoin="miter"/>
<polygon points="325.69,596.2 327.22,600.4 331.68,600.55 328.16,603.3 329.39,607.6 325.69,605.1 321.99,607.6 323.22,603.3 319.7,600.55 324.16,600.4" fill="#66c2a5" stroke="#111" stroke-width="0.9" stroke-linejoin="miter"/>
<polygon points="310.42,596.2 311.95,600.4 316.41,600.55 312.89,603.3 314.12,607.6 310.42,605.1 306.72,607.6 307.95,603.3 304.43,600.55 308.89,600.4" fill="#66c2a5" stroke="#111" stroke-width="0.9" stroke-linejoin="miter"/>
<polygon points="279.88,596.2 281.41,600.4 285.87,600.55 282.35,603.3 283.58,607.6 279.88,605.1 276.18,607.6 277.41,603.3 273.89,600.55 278.35,600.4" fill="#66c2a5" stroke="#111" stroke-width="0.9" stroke-linejoin="miter"/>
<polygon points="249.34,596.2 250.87,600.4 255.33,600.55 251.81,603.3 253.04,607.6 249.34,605.1 245.64,607.6 246.87,603.3 243.35,600.55 247.81,600.4" fill="#66c2a5" stroke="#111" stroke-width="0.9" stroke-linejoin="miter"/>
<polygon points="218.8,596.2 220.33,600.4 224.79,600.55 221.27,603.3 222.5,607.6 218.8,605.1 215.1,607.6 216.33,603.3 212.81,600.55 217.27,600.4" fill="#66c2a5" stroke="#111" stroke-width="0.9" stroke-linejoin="miter"/>
<polygon points="188.26,596.2 189.79,600.4 194.25,600.55 190.73,603.3 191.96,607.6 188.26,605.1 184.56,607.6 185.79,603.3 182.27,600.55 186.73,600.4" fill="#66c2a5" stroke="#111" stroke-width="0.9" stroke-linejoin="miter"/>
<polygon points="157.72,596.2 159.25,600.4 163.71,600.55 160.19,603.3 161.42,607.6 157.72,605.1 154.02,607.6 155.25,603.3 151.73,600.55 156.19,600.4" fill="#66c2a5" stroke="#111" stroke-width="0.9" stroke-linejoin="miter"/>
<polygon points="127.18,596.2 128.71,600.4 133.17,600.55 129.65,603.3 130.88,607.6 127.18,605.1 123.48,607.6 124.71,603.3 121.19,600.55 125.65,600.4" fill="#66c2a5" stroke="#111" stroke-width="0.9" stroke-linejoin="miter"/>
<polygon points="96.64,596.2 98.17,600.4 102.63,600.55 99.11,603.3 100.34,607.6 96.64,605.1 92.94,607.6 94.17,603.3 90.65,600.55 95.11,600.4" fill="#66c2a5" stroke="#111" stroke-width="0.9" stroke-linejoin="miter"/>
<polygon points="66.1,596.2 67.63,600.4 72.09,600.55 68.57,603.3 69.8,607.6 66.1,605.1 62.4,607.6 63.63,603.3 60.11,600.55 64.57,600.4" fill="#66c2a5" stroke="#111" stroke-width="0.9" stroke-linejoin="miter"/>
<polyline points="340.96,602.5 356.23,473.79 371.5,459.76 386.77,454.27 402.04,450 417.31,447.25 432.58,445.42 447.85,451.22 463.12,464.64 477.78,490.87 485.41,602.5" fill="none" stroke="#3a3a3a" stroke-width="0.85"/>
<polygon points="58,602.5 70.15,595.49 70.15,609.51" fill="#e6f598" stroke="#111" stroke-width="0.9" stroke-linejoin="miter"/>
<polygon points="88.54,602.5 100.69,595.49 100.69,609.51" fill="#e6f598" stroke="#111" stroke-width="0.9" stroke-linejoin="miter"/>
<polygon points="119.08,602.5 131.23,595.49 131.23,609.51" fill="#e6f598" stroke="#111" stroke-width="0.9" stroke-linejoin="miter"/>
<polygon points="149.62,602.5 161.77,595.49 161.77,609.51" fill="#e6f598" stroke="#111" stroke-width="0.9" stroke-linejoin="miter"/>
<polygon points="180.16,602.5 192.31,595.49 192.31,609.51" fill="#e6f598" stroke="#111" stroke-width="0.9" stroke-linejoin="miter"/>
<polygon points="210.7,602.5 222.85,595.49 222.85,609.51" fill="#e6f598" stroke="#111" stroke-width="0.9" stroke-linejoin="miter"/>
<polygon points="241.24,602.5 253.39,595.49 253.39,609.51" fill="#e6f598" stroke="#111" stroke-width="0.9" stroke-linejoin="miter"/>
<polygon points="271.78,602.5 283.93,595.49 283.93,609.51" fill="#e6f598" stroke="#111" stroke-width="0.9" stroke-linejoin="miter"/>
<polygon points="302.32,602.5 314.47,595.49 314.47,609.51" fill="#e6f598" stroke="#111" stroke-width="0.9" stroke-linejoin="miter"/>
<polygon points="332.86,602.5 345.01,595.49 345.01,609.51" fill="#e6f598" stroke="#111" stroke-width="0.9" stroke-linejoin="miter"/>
<polygon points="348.13,473.79 360.28,466.78 360.28,480.8" fill="#e6f598" stroke="#111" stroke-width="0.9" stroke-linejoin="miter"/>
<polygon points="363.4,459.76 375.55,452.75 375.55,466.77" fill="#e6f598" stroke="#111" stroke-width="0.9" stroke-linejoin="miter"/>
<polygon points="378.67,454.27 390.82,447.26 390.82,461.28" fill="#e6f598" stroke="#111" stroke-width="0.9" stroke-linejoin="miter"/>
<polygon points="393.94,450 406.09,442.99 406.09,457.01" fill="#e6f598" stroke="#111" stroke-width="0.9" stroke-linejoin="miter"/>
<polygon points="409.21,447.25 421.36,440.24 421.36,454.27" fill="#e6f598" stroke="#111" stroke-width="0.9" stroke-linejoin="miter"/>
<polygon points="424.48,445.42 436.63,438.41 436.63,452.44" fill="#e6f598" stroke="#111" stroke-width="0.9" stroke-linejoin="miter"/>
<polygon points="439.75,451.22 451.9,444.21 451.9,458.23" fill="#e6f598" stroke="#111" stroke-width="0.9" stroke-linejoin="miter"/>
<polygon points="455.02,464.64 467.17,457.63 467.17,471.65" fill="#e6f598" stroke="#111" stroke-width="0.9" stroke-linejoin="miter"/>
<polygon points="469.68,490.87 481.83,483.86 481.83,497.88" fill="#e6f598" stroke="#111" stroke-width="0.9" stroke-linejoin="miter"/>
<polygon points="477.31,602.5 489.46,595.49 489.46,609.51" fill="#e6f598" stroke="#111" stroke-width="0.9" stroke-linejoin="miter"/>
<polygon points="485.56,602.5 497.71,595.49 497.71,609.51" fill="#e6f598" stroke="#111" stroke-width="0.9" stroke-linejoin="miter"/>
<polyline points="463.12,602.5 453.96,465.86 432.58,446.03 417.31,447.25 402.04,450 386.77,454.27 371.5,459.76 356.23,473.79 340.96,487.82 325.69,525.64 310.42,602.5" fill="none" stroke="#1e1e1e" stroke-width="1.15" stroke-dasharray="1.8 2.7"/>
<polygon points="493.66,596.3 495.46,599.38 499.03,599.4 497.26,602.5 499.03,605.6 495.46,605.62 493.66,608.7 491.86,605.62 488.29,605.6 490.06,602.5 488.29,599.4 491.86,599.38" fill="#e6f598" stroke="#111" stroke-width="0.9" stroke-linejoin="miter"/>
<polygon points="463.12,596.3 464.92,599.38 468.49,599.4 466.72,602.5 468.49,605.6 464.92,605.62 463.12,608.7 461.32,605.62 457.75,605.6 459.52,602.5 457.75,599.4 461.32,599.38" fill="#e6f598" stroke="#111" stroke-width="0.9" stroke-linejoin="miter"/>
<polygon points="453.96,459.66 455.76,462.74 459.33,462.76 457.56,465.86 459.33,468.96 455.76,468.98 453.96,472.06 452.16,468.98 448.59,468.96 450.36,465.86 448.59,462.76 452.16,462.74" fill="#e6f598" stroke="#111" stroke-width="0.9" stroke-linejoin="miter"/>
<polygon points="432.58,439.83 434.38,442.92 437.95,442.93 436.18,446.03 437.95,449.13 434.38,449.15 432.58,452.23 430.78,449.15 427.21,449.13 428.98,446.03 427.21,442.93 430.78,442.92" fill="#e6f598" stroke="#111" stroke-width="0.9" stroke-linejoin="miter"/>
<polygon points="417.31,441.06 419.11,444.14 422.68,444.15 420.91,447.25 422.68,450.36 419.11,450.37 417.31,453.45 415.51,450.37 411.94,450.36 413.71,447.25 411.94,444.15 415.51,444.14" fill="#e6f598" stroke="#111" stroke-width="0.9" stroke-linejoin="miter"/>
<polygon points="402.04,443.8 403.84,446.88 407.41,446.9 405.64,450 407.41,453.1 403.84,453.12 402.04,456.2 400.24,453.12 396.67,453.1 398.44,450 396.67,446.9 400.24,446.88" fill="#e6f598" stroke="#111" stroke-width="0.9" stroke-linejoin="miter"/>
<polygon points="386.77,448.07 388.57,451.15 392.14,451.17 390.37,454.27 392.14,457.37 388.57,457.39 386.77,460.47 384.97,457.39 381.4,457.37 383.17,454.27 381.4,451.17 384.97,451.15" fill="#e6f598" stroke="#111" stroke-width="0.9" stroke-linejoin="miter"/>
<polygon points="371.5,453.56 373.3,456.64 376.87,456.66 375.1,459.76 376.87,462.86 373.3,462.88 371.5,465.96 369.7,462.88 366.13,462.86 367.9,459.76 366.13,456.66 369.7,456.64" fill="#e6f598" stroke="#111" stroke-width="0.9" stroke-linejoin="miter"/>
<polygon points="356.23,467.59 358.03,470.67 361.6,470.69 359.83,473.79 361.6,476.89 358.03,476.91 356.23,479.99 354.43,476.91 350.86,476.89 352.63,473.79 350.86,470.69 354.43,470.67" fill="#e6f598" stroke="#111" stroke-width="0.9" stroke-linejoin="miter"/>
<polygon points="340.96,481.62 342.76,484.7 346.33,484.72 344.56,487.82 346.33,490.92 342.76,490.94 340.96,494.02 339.16,490.94 335.59,490.92 337.36,487.82 335.59,484.72 339.16,484.7" fill="#e6f598" stroke="#111" stroke-width="0.9" stroke-linejoin="miter"/>
<polygon points="325.69,519.44 327.49,522.52 331.06,522.54 329.29,525.64 331.06,528.74 327.49,528.76 325.69,531.84 323.89,528.76 320.32,528.74 322.09,525.64 320.32,522.54 323.89,522.52" fill="#e6f598" stroke="#111" stroke-width="0.9" stroke-linejoin="miter"/>
<polygon points="310.42,596.3 312.22,599.38 315.79,599.4 314.02,602.5 315.79,605.6 312.22,605.62 310.42,608.7 308.62,605.62 305.05,605.6 306.82,602.5 305.05,599.4 308.62,599.38" fill="#e6f598" stroke="#111" stroke-width="0.9" stroke-linejoin="miter"/>
<polygon points="279.88,596.3 281.68,599.38 285.25,599.4 283.48,602.5 285.25,605.6 281.68,605.62 279.88,608.7 278.08,605.62 274.51,605.6 276.28,602.5 274.51,599.4 278.08,599.38" fill="#e6f598" stroke="#111" stroke-width="0.9" stroke-linejoin="miter"/>
<polygon points="249.34,596.3 251.14,599.38 254.71,599.4 252.94,602.5 254.71,605.6 251.14,605.62 249.34,608.7 247.54,605.62 243.97,605.6 245.74,602.5 243.97,599.4 247.54,599.38" fill="#e6f598" stroke="#111" stroke-width="0.9" stroke-linejoin="miter"/>
<polygon points="218.8,596.3 220.6,599.38 224.17,599.4 222.4,602.5 224.17,605.6 220.6,605.62 218.8,608.7 217,605.62 213.43,605.6 215.2,602.5 213.43,599.4 217,599.38" fill="#e6f598" stroke="#111" stroke-width="0.9" stroke-linejoin="miter"/>
<polygon points="188.26,596.3 190.06,599.38 193.63,599.4 191.86,602.5 193.63,605.6 190.06,605.62 188.26,608.7 186.46,605.62 182.89,605.6 184.66,602.5 182.89,599.4 186.46,599.38" fill="#e6f598" stroke="#111" stroke-width="0.9" stroke-linejoin="miter"/>
<polygon points="157.72,596.3 159.52,599.38 163.09,599.4 161.32,602.5 163.09,605.6 159.52,605.62 157.72,608.7 155.92,605.62 152.35,605.6 154.12,602.5 152.35,599.4 155.92,599.38" fill="#e6f598" stroke="#111" stroke-width="0.9" stroke-linejoin="miter"/>
<polygon points="127.18,596.3 128.98,599.38 132.55,599.4 130.78,602.5 132.55,605.6 128.98,605.62 127.18,608.7 125.38,605.62 121.81,605.6 123.58,602.5 121.81,599.4 125.38,599.38" fill="#e6f598" stroke="#111" stroke-width="0.9" stroke-linejoin="miter"/>
<polygon points="96.64,596.3 98.44,599.38 102.01,599.4 100.24,602.5 102.01,605.6 98.44,605.62 96.64,608.7 94.84,605.62 91.27,605.6 93.04,602.5 91.27,599.4 94.84,599.38" fill="#e6f598" stroke="#111" stroke-width="0.9" stroke-linejoin="miter"/>
<polygon points="66.1,596.3 67.9,599.38 71.47,599.4 69.7,602.5 71.47,605.6 67.9,605.62 66.1,608.7 64.3,605.62 60.73,605.6 62.5,602.5 60.73,599.4 64.3,599.38" fill="#e6f598" stroke="#111" stroke-width="0.9" stroke-linejoin="miter"/>
</g>
<rect x="92.7" y="12.1" width="170.9" height="169" fill="#fff" stroke="#6e6e6e" stroke-width="1"/>
<line x1="96" y1="24.7" x2="131.3" y2="24.7" stroke="#3a3a3a" stroke-width="0.85"/>
<rect x="109" y="20.2" width="9" height="9" fill="#5e4fa2" stroke="#111" stroke-width="0.9"/>
<text x="187.6" y="30.2" font-size="12.7" fill="#111">(Increasing)</text>
<line x1="96" y1="45.32" x2="131.3" y2="45.32" stroke="#1e1e1e" stroke-width="1.15" stroke-dasharray="1.8 2.7"/>
<polygon points="113.5,37.72 119.25,45.32 113.5,52.92 107.75,45.32" fill="#5e4fa2" stroke="#111" stroke-width="0.9" stroke-linejoin="miter"/>
<text x="187.6" y="50.82" font-size="12.7" fill="#111">(Decreasing)</text>
<line x1="96" y1="65.94" x2="131.3" y2="65.94" stroke="#3a3a3a" stroke-width="0.85"/>
<polygon points="113.5,57.84 120.51,69.99 106.49,69.99" fill="#3288bd" stroke="#111" stroke-width="0.9" stroke-linejoin="miter"/>
<text x="187.6" y="71.44" font-size="12.7" fill="#111">(Increasing)</text>
<line x1="96" y1="86.56" x2="131.3" y2="86.56" stroke="#1e1e1e" stroke-width="1.15" stroke-dasharray="1.8 2.7"/>
<polygon points="113.5,94.66 106.49,82.51 120.51,82.51" fill="#3288bd" stroke="#111" stroke-width="0.9" stroke-linejoin="miter"/>
<text x="187.6" y="92.06" font-size="12.7" fill="#111">(Decreasing)</text>
<line x1="96" y1="107.18" x2="131.3" y2="107.18" stroke="#3a3a3a" stroke-width="0.85"/>
<polygon points="121.6,107.18 109.45,114.19 109.45,100.17" fill="#66c2a5" stroke="#111" stroke-width="0.9" stroke-linejoin="miter"/>
<text x="187.6" y="112.68" font-size="12.7" fill="#111">(Increasing)</text>
<line x1="96" y1="127.8" x2="131.3" y2="127.8" stroke="#1e1e1e" stroke-width="1.15" stroke-dasharray="1.8 2.7"/>
<polygon points="113.5,121.5 115.03,125.7 119.49,125.85 115.97,128.6 117.2,132.9 113.5,130.4 109.8,132.9 111.03,128.6 107.51,125.85 111.97,125.7" fill="#66c2a5" stroke="#111" stroke-width="0.9" stroke-linejoin="miter"/>
<text x="187.6" y="133.3" font-size="12.7" fill="#111">(Decreasing)</text>
<line x1="96" y1="148.42" x2="131.3" y2="148.42" stroke="#3a3a3a" stroke-width="0.85"/>
<polygon points="105.4,148.42 117.55,141.41 117.55,155.43" fill="#e6f598" stroke="#111" stroke-width="0.9" stroke-linejoin="miter"/>
<text x="187.6" y="153.92" font-size="12.7" fill="#111">(Increasing)</text>
<line x1="96" y1="169.04" x2="131.3" y2="169.04" stroke="#1e1e1e" stroke-width="1.15" stroke-dasharray="1.8 2.7"/>
<polygon points="113.5,162.84 115.3,165.92 118.87,165.94 117.1,169.04 118.87,172.14 115.3,172.16 113.5,175.24 111.7,172.16 108.13,172.14 109.9,169.04 108.13,165.94 111.7,165.92" fill="#e6f598" stroke="#111" stroke-width="0.9" stroke-linejoin="miter"/>
<text x="187.6" y="174.54" font-size="12.7" fill="#111">(Decreasing)</text>
<text x="144.6" y="43.71" font-size="23" font-weight="bold" fill="#111">F5</text>
<text x="144.6" y="83.65" font-size="23" font-weight="bold" fill="#111">F6</text>
<text x="144.6" y="124.89" font-size="23" font-weight="bold" fill="#111">F7</text>
<text x="144.6" y="166.13" font-size="23" font-weight="bold" fill="#111">F8</text>
<text transform="translate(6.6 13.9) scale(1.0 1)" x="0" y="0" font-size="17" font-weight="bold" fill="#111">(a)</text>
<text transform="translate(3.6 224.4) scale(0.91 1)" x="0" y="0" font-size="17" font-weight="bold" fill="#111">(b)</text>
<text transform="translate(1.4 423.4) scale(1.0 1)" x="0" y="0" font-size="17" font-weight="bold" fill="#111">(c)</text>
<text transform="translate(19.0 101) rotate(-90)" font-size="15.5" text-anchor="middle" fill="#222">Amplitude (°)</text>
<text transform="translate(19.0 306.2) rotate(-90)" font-size="15.5" text-anchor="middle" fill="#222">Frequency (Hz)</text>
<text transform="translate(19.0 512.6) rotate(-90)" font-size="15.5" text-anchor="middle" fill="#222">Power (mW)</text>
<text x="67" y="622.3" font-size="13.6" text-anchor="middle" fill="#222">0</text>
<text x="143.35" y="622.3" font-size="13.6" text-anchor="middle" fill="#222">2.5</text>
<text x="219.7" y="622.3" font-size="13.6" text-anchor="middle" fill="#222">5</text>
<text x="296.05" y="622.3" font-size="13.6" text-anchor="middle" fill="#222">7.5</text>
<text x="372.4" y="622.3" font-size="13.6" text-anchor="middle" fill="#222">10</text>
<text x="448.75" y="622.3" font-size="13.6" text-anchor="middle" fill="#222">12.5</text>
<text x="525.1" y="622.3" font-size="13.6" text-anchor="middle" fill="#222">15</text>
<text x="295.3" y="642.3" font-size="15.6" text-anchor="middle" fill="#222">Wind Speed (m/s)</text>
<polygon points="367.44,161.38 396.44,141.53 399.97,146.69 407.4,130.1 389.24,131.01 392.77,136.17 363.76,156.02" fill="#aa0b0b"/>
<text x="358.1" y="176.5" font-size="23.2" font-weight="bold" text-anchor="middle" fill="#aa0b0b" stroke="#aa0b0b" stroke-width="0.7" stroke-linejoin="round">A</text>
<polygon points="478.67,241.57 443.88,245.17 443.24,238.95 428.8,250 445.2,257.85 444.55,251.64 479.33,248.03" fill="#aa0b0b"/>
<text x="491.0" y="251.8" font-size="23.6" font-weight="bold" text-anchor="middle" fill="#aa0b0b" stroke="#aa0b0b" stroke-width="0.7" stroke-linejoin="round">A</text>
<polygon points="366.3,589.12 401.19,582.01 402.23,587.11 414.6,575.2 398.56,569.08 399.59,574.17 364.7,581.28" fill="#aa0b0b"/>
<text x="358.3" y="596.9" font-size="23.8" font-weight="bold" text-anchor="middle" fill="#aa0b0b" stroke="#aa0b0b" stroke-width="0.7" stroke-linejoin="round">A</text>
</svg></body></html>
